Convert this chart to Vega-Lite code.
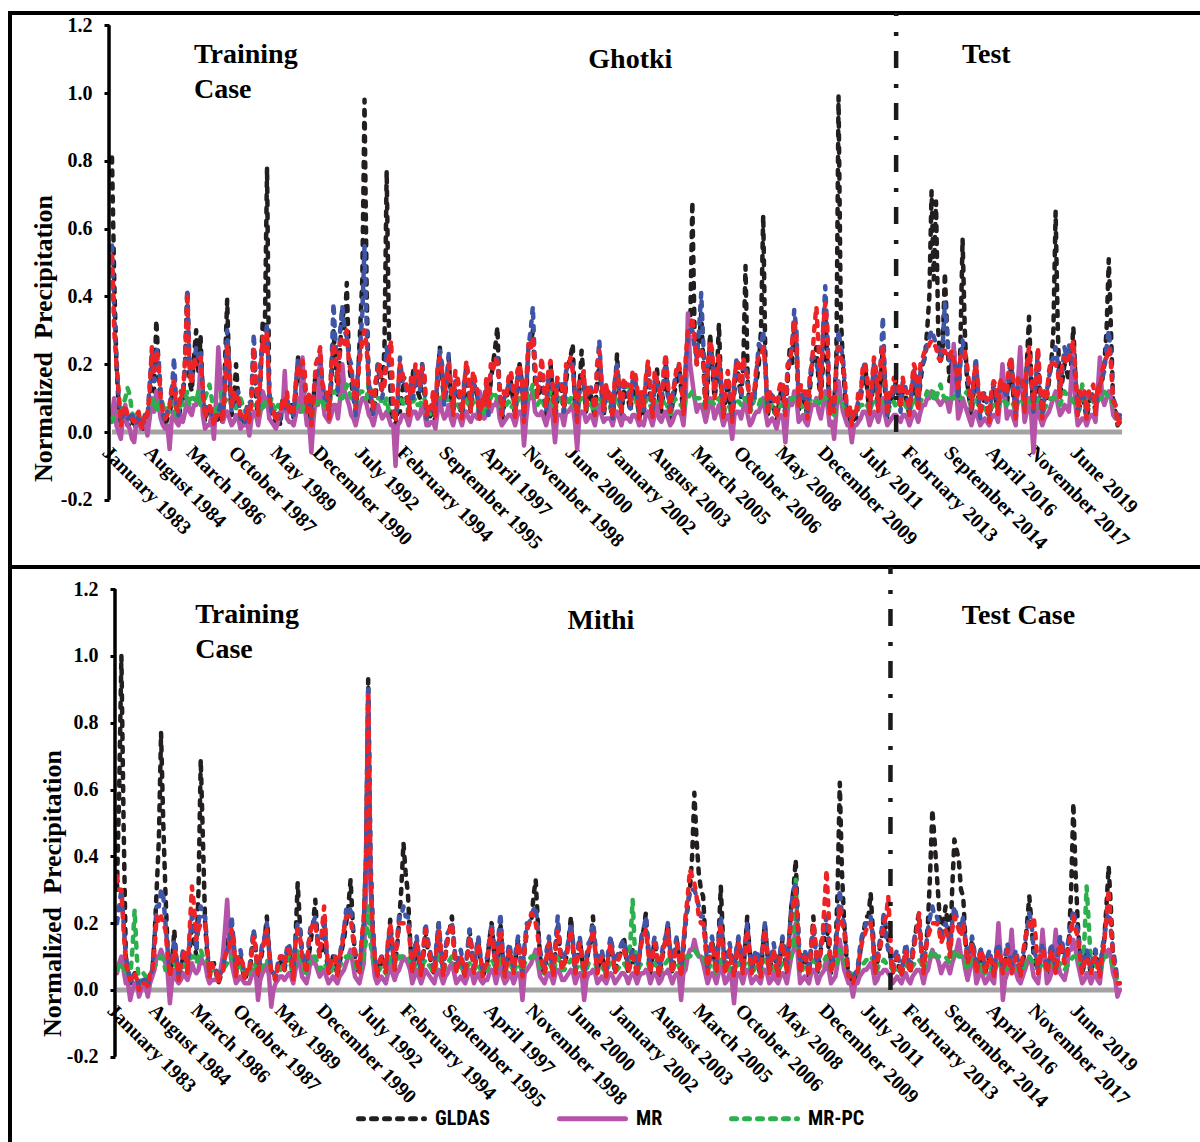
{
"$schema":"https://vega.github.io/schema/vega-lite/v6.json",
"usermeta":{"embedOptions":{"actions":false}},
"background":"white",
"padding":{"left":8,"top":8,"right":0,"bottom":0},
"spacing":0,
"bounds":"flush",
"config":{"view":{"stroke":"black","strokeWidth":4}},
"resolve":{"scale":{"color":"shared","strokeDash":"shared","x":"independent","y":"independent"},"legend":{"color":"shared","strokeDash":"shared"}},
"datasets":{
"ghotki":[
{"m":0,"g":0.81,"p":0.05,"c":0.03,"b":0.55,"r":0.52},
{"m":2,"g":0.2,"p":0.02,"c":0.05,"b":0.22,"r":0.2},
{"m":4,"g":0.02,"p":-0.02,"c":0.04,"b":0.03,"r":0.02},
{"m":6,"g":0.05,"p":0.08,"c":0.1,"b":0.06,"r":0.08},
{"m":8,"g":0.02,"p":0.01,"c":0.11,"b":0.04,"r":0.05},
{"m":10,"g":0.01,"p":-0.03,"c":0.03,"b":0.02,"r":0.03},
{"m":12,"g":0.03,"p":0.04,"c":0.06,"b":0.05,"r":0.06},
{"m":14,"g":0.01,"p":0.02,"c":0.02,"b":0.02,"r":0.01},
{"m":16,"g":0.04,"p":-0.01,"c":0.05,"b":0.04,"r":0.05},
{"m":18,"g":0.2,"p":0.1,"c":0.08,"b":0.24,"r":0.25},
{"m":20,"g":0.33,"p":0.12,"c":0.07,"b":0.25,"r":0.24},
{"m":22,"g":0.06,"p":0.04,"c":0.1,"b":0.12,"r":0.1},
{"m":24,"g":0.02,"p":0.01,"c":0.04,"b":0.03,"r":0.04},
{"m":26,"g":0.05,"p":-0.05,"c":0.06,"b":0.08,"r":0.07},
{"m":28,"g":0.15,"p":0.06,"c":0.09,"b":0.22,"r":0.15},
{"m":30,"g":0.03,"p":0.02,"c":0.05,"b":0.05,"r":0.06},
{"m":32,"g":0.1,"p":0.03,"c":0.08,"b":0.12,"r":0.1},
{"m":34,"g":0.42,"p":0.1,"c":0.12,"b":0.42,"r":0.41},
{"m":36,"g":0.12,"p":0.05,"c":0.1,"b":0.15,"r":0.14},
{"m":38,"g":0.3,"p":0.08,"c":0.09,"b":0.25,"r":0.2},
{"m":40,"g":0.28,"p":0.2,"c":0.08,"b":0.24,"r":0.22},
{"m":42,"g":0.03,"p":0.01,"c":0.1,"b":0.05,"r":0.04},
{"m":44,"g":0.08,"p":0.02,"c":0.14,"b":0.07,"r":0.08},
{"m":46,"g":0.02,"p":-0.02,"c":0.06,"b":0.03,"r":0.02},
{"m":48,"g":0.04,"p":0.25,"c":0.05,"b":0.06,"r":0.05},
{"m":50,"g":0.02,"p":0.03,"c":0.12,"b":0.04,"r":0.03},
{"m":52,"g":0.39,"p":0.06,"c":0.1,"b":0.3,"r":0.26},
{"m":54,"g":0.05,"p":0.02,"c":0.13,"b":0.06,"r":0.07},
{"m":56,"g":0.2,"p":0.05,"c":0.07,"b":0.1,"r":0.09},
{"m":58,"g":0.03,"p":0.01,"c":0.1,"b":0.04,"r":0.05},
{"m":60,"g":0.02,"p":0.02,"c":0.06,"b":0.03,"r":0.04},
{"m":62,"g":0.02,"p":-0.01,"c":0.09,"b":0.05,"r":0.03},
{"m":64,"g":0.25,"p":0.06,"c":0.08,"b":0.29,"r":0.25},
{"m":66,"g":0.04,"p":0.02,"c":0.05,"b":0.06,"r":0.05},
{"m":68,"g":0.32,"p":0.12,"c":0.06,"b":0.25,"r":0.28},
{"m":70,"g":0.78,"p":0.1,"c":0.09,"b":0.32,"r":0.3},
{"m":72,"g":0.05,"p":0.03,"c":0.1,"b":0.06,"r":0.07},
{"m":74,"g":0.03,"p":0.01,"c":0.06,"b":0.04,"r":0.03},
{"m":76,"g":0.02,"p":0.06,"c":0.07,"b":0.04,"r":0.05},
{"m":78,"g":0.08,"p":0.18,"c":0.08,"b":0.06,"r":0.07},
{"m":80,"g":0.06,"p":0.03,"c":0.06,"b":0.07,"r":0.05},
{"m":82,"g":0.04,"p":0.02,"c":0.05,"b":0.05,"r":0.06},
{"m":84,"g":0.22,"p":0.1,"c":0.08,"b":0.22,"r":0.2},
{"m":86,"g":0.2,"p":0.22,"c":0.06,"b":0.18,"r":0.21},
{"m":88,"g":0.05,"p":0.02,"c":0.1,"b":0.07,"r":0.06},
{"m":90,"g":0.02,"p":-0.06,"c":0.04,"b":0.03,"r":0.02},
{"m":92,"g":0.18,"p":0.1,"c":0.08,"b":0.16,"r":0.2},
{"m":94,"g":0.2,"p":0.24,"c":0.09,"b":0.21,"r":0.25},
{"m":96,"g":0.1,"p":0.05,"c":0.07,"b":0.1,"r":0.12},
{"m":98,"g":0.05,"p":0.03,"c":0.1,"b":0.06,"r":0.04},
{"m":100,"g":0.3,"p":0.08,"c":0.12,"b":0.38,"r":0.26},
{"m":102,"g":0.1,"p":0.04,"c":0.1,"b":0.12,"r":0.14},
{"m":104,"g":0.37,"p":0.2,"c":0.1,"b":0.37,"r":0.28},
{"m":106,"g":0.44,"p":0.1,"c":0.14,"b":0.28,"r":0.3},
{"m":108,"g":0.15,"p":0.05,"c":0.1,"b":0.2,"r":0.18},
{"m":110,"g":0.06,"p":0.02,"c":0.08,"b":0.05,"r":0.07},
{"m":112,"g":0.3,"p":0.08,"c":0.12,"b":0.25,"r":0.22},
{"m":114,"g":0.98,"p":0.1,"c":0.1,"b":0.55,"r":0.3},
{"m":116,"g":0.1,"p":0.05,"c":0.15,"b":0.14,"r":0.12},
{"m":118,"g":0.05,"p":0.02,"c":0.08,"b":0.05,"r":0.06},
{"m":120,"g":0.2,"p":0.08,"c":0.1,"b":0.2,"r":0.18},
{"m":122,"g":0.12,"p":0.04,"c":0.08,"b":0.1,"r":0.12},
{"m":124,"g":0.77,"p":0.06,"c":0.1,"b":0.25,"r":0.2},
{"m":126,"g":0.05,"p":0.02,"c":0.05,"b":0.18,"r":0.27},
{"m":128,"g":0.02,"p":-0.1,"c":0.04,"b":0.04,"r":0.03},
{"m":130,"g":0.06,"p":0.03,"c":0.1,"b":0.22,"r":0.2},
{"m":132,"g":0.15,"p":0.05,"c":0.08,"b":0.16,"r":0.14},
{"m":134,"g":0.04,"p":0.02,"c":0.06,"b":0.06,"r":0.05},
{"m":136,"g":0.18,"p":0.06,"c":0.09,"b":0.1,"r":0.12},
{"m":138,"g":0.12,"p":0.04,"c":0.08,"b":0.15,"r":0.18},
{"m":140,"g":0.2,"p":0.08,"c":0.1,"b":0.2,"r":0.19},
{"m":142,"g":0.03,"p":0.02,"c":0.06,"b":0.04,"r":0.05},
{"m":144,"g":0.05,"p":0.03,"c":0.05,"b":0.06,"r":0.07},
{"m":146,"g":0.03,"p":0.01,"c":0.08,"b":0.05,"r":0.04},
{"m":148,"g":0.25,"p":0.1,"c":0.1,"b":0.24,"r":0.22},
{"m":150,"g":0.1,"p":0.04,"c":0.12,"b":0.08,"r":0.1},
{"m":152,"g":0.22,"p":0.08,"c":0.09,"b":0.23,"r":0.2},
{"m":154,"g":0.05,"p":0.02,"c":0.07,"b":0.06,"r":0.05},
{"m":156,"g":0.15,"p":0.05,"c":0.08,"b":0.14,"r":0.16},
{"m":158,"g":0.03,"p":0.02,"c":0.06,"b":0.05,"r":0.04},
{"m":160,"g":0.2,"p":0.06,"c":0.1,"b":0.18,"r":0.21},
{"m":162,"g":0.06,"p":0.03,"c":0.07,"b":0.07,"r":0.06},
{"m":164,"g":0.14,"p":0.05,"c":0.08,"b":0.12,"r":0.15},
{"m":166,"g":0.04,"p":0.12,"c":0.06,"b":0.05,"r":0.04},
{"m":168,"g":0.08,"p":0.04,"c":0.05,"b":0.1,"r":0.08},
{"m":170,"g":0.06,"p":0.1,"c":0.1,"b":0.05,"r":0.07},
{"m":172,"g":0.2,"p":0.08,"c":0.12,"b":0.2,"r":0.18},
{"m":174,"g":0.31,"p":0.1,"c":0.1,"b":0.22,"r":0.2},
{"m":176,"g":0.03,"p":0.02,"c":0.06,"b":0.04,"r":0.05},
{"m":178,"g":0.1,"p":0.04,"c":0.08,"b":0.11,"r":0.1},
{"m":180,"g":0.15,"p":0.05,"c":0.07,"b":0.15,"r":0.18},
{"m":182,"g":0.04,"p":0.02,"c":0.05,"b":0.05,"r":0.04},
{"m":184,"g":0.2,"p":0.06,"c":0.1,"b":0.18,"r":0.2},
{"m":186,"g":0.04,"p":-0.04,"c":0.07,"b":0.05,"r":0.03},
{"m":188,"g":0.25,"p":0.1,"c":0.12,"b":0.25,"r":0.26},
{"m":190,"g":0.3,"p":0.12,"c":0.14,"b":0.37,"r":0.28},
{"m":192,"g":0.1,"p":0.05,"c":0.08,"b":0.12,"r":0.1},
{"m":194,"g":0.18,"p":0.06,"c":0.1,"b":0.2,"r":0.22},
{"m":196,"g":0.05,"p":0.02,"c":0.09,"b":0.06,"r":0.07},
{"m":198,"g":0.2,"p":0.08,"c":0.12,"b":0.18,"r":0.21},
{"m":200,"g":0.03,"p":-0.03,"c":0.06,"b":0.04,"r":0.03},
{"m":202,"g":0.15,"p":0.05,"c":0.1,"b":0.14,"r":0.15},
{"m":204,"g":0.05,"p":0.02,"c":0.06,"b":0.06,"r":0.07},
{"m":206,"g":0.2,"p":0.06,"c":0.08,"b":0.2,"r":0.19},
{"m":208,"g":0.26,"p":0.08,"c":0.1,"b":0.2,"r":0.18},
{"m":210,"g":0.03,"p":-0.05,"c":0.05,"b":0.04,"r":0.03},
{"m":212,"g":0.24,"p":0.06,"c":0.1,"b":0.15,"r":0.16},
{"m":214,"g":0.06,"p":0.03,"c":0.07,"b":0.07,"r":0.06},
{"m":216,"g":0.12,"p":0.05,"c":0.09,"b":0.14,"r":0.12},
{"m":218,"g":0.04,"p":0.02,"c":0.06,"b":0.05,"r":0.05},
{"m":220,"g":0.2,"p":0.08,"c":0.1,"b":0.27,"r":0.24},
{"m":222,"g":0.05,"p":0.03,"c":0.08,"b":0.06,"r":0.06},
{"m":224,"g":0.1,"p":0.04,"c":0.12,"b":0.12,"r":0.1},
{"m":226,"g":0.03,"p":0.02,"c":0.06,"b":0.04,"r":0.04},
{"m":228,"g":0.23,"p":0.06,"c":0.1,"b":0.2,"r":0.18},
{"m":230,"g":0.05,"p":0.02,"c":0.07,"b":0.06,"r":0.05},
{"m":232,"g":0.1,"p":0.04,"c":0.14,"b":0.12,"r":0.14},
{"m":234,"g":0.06,"p":0.03,"c":0.13,"b":0.07,"r":0.08},
{"m":236,"g":0.15,"p":0.05,"c":0.1,"b":0.16,"r":0.18},
{"m":238,"g":0.04,"p":0.02,"c":0.06,"b":0.05,"r":0.04},
{"m":240,"g":0.05,"p":0.02,"c":0.08,"b":0.06,"r":0.07},
{"m":242,"g":0.18,"p":0.06,"c":0.1,"b":0.2,"r":0.21},
{"m":244,"g":0.04,"p":0.02,"c":0.06,"b":0.05,"r":0.04},
{"m":246,"g":0.19,"p":0.08,"c":0.09,"b":0.16,"r":0.15},
{"m":248,"g":0.06,"p":0.03,"c":0.08,"b":0.08,"r":0.07},
{"m":250,"g":0.2,"p":0.06,"c":0.07,"b":0.22,"r":0.23},
{"m":252,"g":0.04,"p":0.02,"c":0.05,"b":0.05,"r":0.06},
{"m":254,"g":0.12,"p":0.05,"c":0.1,"b":0.15,"r":0.14},
{"m":256,"g":0.2,"p":0.06,"c":0.08,"b":0.19,"r":0.2},
{"m":258,"g":0.05,"p":0.02,"c":0.06,"b":0.06,"r":0.05},
{"m":260,"g":0.25,"p":0.35,"c":0.1,"b":0.28,"r":0.3},
{"m":262,"g":0.68,"p":0.15,"c":0.12,"b":0.3,"r":0.34},
{"m":264,"g":0.2,"p":0.06,"c":0.1,"b":0.22,"r":0.2},
{"m":266,"g":0.35,"p":0.08,"c":0.1,"b":0.41,"r":0.25},
{"m":268,"g":0.06,"p":0.03,"c":0.07,"b":0.08,"r":0.07},
{"m":270,"g":0.29,"p":0.1,"c":0.09,"b":0.25,"r":0.27},
{"m":272,"g":0.1,"p":0.04,"c":0.08,"b":0.12,"r":0.1},
{"m":274,"g":0.32,"p":0.08,"c":0.1,"b":0.2,"r":0.23},
{"m":276,"g":0.04,"p":0.02,"c":0.06,"b":0.05,"r":0.04},
{"m":278,"g":0.15,"p":0.05,"c":0.08,"b":0.16,"r":0.18},
{"m":280,"g":0.03,"p":-0.02,"c":0.05,"b":0.04,"r":0.03},
{"m":282,"g":0.2,"p":0.06,"c":0.09,"b":0.22,"r":0.21},
{"m":284,"g":0.1,"p":0.04,"c":0.08,"b":0.1,"r":0.12},
{"m":286,"g":0.49,"p":0.1,"c":0.1,"b":0.2,"r":0.18},
{"m":288,"g":0.06,"p":0.02,"c":0.06,"b":0.07,"r":0.06},
{"m":290,"g":0.12,"p":0.05,"c":0.1,"b":0.1,"r":0.12},
{"m":292,"g":0.2,"p":0.06,"c":0.08,"b":0.26,"r":0.22},
{"m":294,"g":0.64,"p":0.1,"c":0.1,"b":0.3,"r":0.25},
{"m":296,"g":0.05,"p":0.02,"c":0.06,"b":0.06,"r":0.05},
{"m":298,"g":0.1,"p":0.04,"c":0.08,"b":0.12,"r":0.1},
{"m":300,"g":0.03,"p":0.01,"c":0.05,"b":0.04,"r":0.04},
{"m":302,"g":0.12,"p":0.05,"c":0.08,"b":0.14,"r":0.15},
{"m":304,"g":0.05,"p":-0.03,"c":0.06,"b":0.06,"r":0.05},
{"m":306,"g":0.25,"p":0.1,"c":0.09,"b":0.22,"r":0.2},
{"m":308,"g":0.3,"p":0.12,"c":0.1,"b":0.36,"r":0.33},
{"m":310,"g":0.06,"p":0.03,"c":0.08,"b":0.08,"r":0.07},
{"m":312,"g":0.1,"p":0.05,"c":0.07,"b":0.1,"r":0.12},
{"m":314,"g":0.04,"p":0.02,"c":0.05,"b":0.05,"r":0.04},
{"m":316,"g":0.2,"p":0.08,"c":0.1,"b":0.22,"r":0.2},
{"m":318,"g":0.25,"p":0.1,"c":0.09,"b":0.2,"r":0.37},
{"m":320,"g":0.1,"p":0.04,"c":0.08,"b":0.12,"r":0.1},
{"m":322,"g":0.35,"p":0.12,"c":0.1,"b":0.43,"r":0.38},
{"m":324,"g":0.05,"p":0.02,"c":0.06,"b":0.06,"r":0.05},
{"m":326,"g":0.08,"p":-0.02,"c":0.05,"b":0.07,"r":0.06},
{"m":328,"g":0.99,"p":0.15,"c":0.1,"b":0.3,"r":0.25},
{"m":330,"g":0.2,"p":0.06,"c":0.08,"b":0.22,"r":0.2},
{"m":332,"g":0.04,"p":0.02,"c":0.06,"b":0.05,"r":0.04},
{"m":334,"g":0.02,"p":-0.03,"c":0.05,"b":0.03,"r":0.02},
{"m":336,"g":0.04,"p":0.02,"c":0.06,"b":0.05,"r":0.06},
{"m":338,"g":0.1,"p":0.04,"c":0.08,"b":0.12,"r":0.1},
{"m":340,"g":0.2,"p":0.06,"c":0.07,"b":0.21,"r":0.2},
{"m":342,"g":0.05,"p":0.02,"c":0.06,"b":0.06,"r":0.05},
{"m":344,"g":0.18,"p":0.06,"c":0.1,"b":0.2,"r":0.22},
{"m":346,"g":0.06,"p":0.03,"c":0.07,"b":0.07,"r":0.06},
{"m":348,"g":0.25,"p":0.1,"c":0.09,"b":0.34,"r":0.25},
{"m":350,"g":0.04,"p":0.02,"c":0.06,"b":0.05,"r":0.05},
{"m":352,"g":0.1,"p":0.04,"c":0.08,"b":0.1,"r":0.11},
{"m":354,"g":0.15,"p":0.05,"c":0.07,"b":0.12,"r":0.14},
{"m":356,"g":0.08,"p":0.03,"c":0.1,"b":0.06,"r":0.07},
{"m":358,"g":0.12,"p":0.05,"c":0.08,"b":0.14,"r":0.12},
{"m":360,"g":0.05,"p":0.02,"c":0.06,"b":0.06,"r":0.05},
{"m":362,"g":0.15,"p":0.06,"c":0.1,"b":0.18,"r":0.2},
{"m":364,"g":0.08,"p":0.03,"c":0.07,"b":0.08,"r":0.06},
{"m":366,"g":0.2,"p":0.08,"c":0.1,"b":0.2,"r":0.22},
{"m":368,"g":0.3,"p":0.1,"c":0.12,"b":0.26,"r":0.24},
{"m":370,"g":0.71,"p":0.12,"c":0.1,"b":0.3,"r":0.27},
{"m":372,"g":0.68,"p":0.1,"c":0.1,"b":0.26,"r":0.25},
{"m":374,"g":0.2,"p":0.08,"c":0.14,"b":0.22,"r":0.21},
{"m":376,"g":0.47,"p":0.1,"c":0.1,"b":0.38,"r":0.24},
{"m":378,"g":0.15,"p":0.06,"c":0.09,"b":0.2,"r":0.22},
{"m":380,"g":0.25,"p":0.26,"c":0.1,"b":0.22,"r":0.21},
{"m":382,"g":0.08,"p":0.04,"c":0.12,"b":0.1,"r":0.12},
{"m":384,"g":0.57,"p":0.1,"c":0.1,"b":0.27,"r":0.23},
{"m":386,"g":0.15,"p":0.06,"c":0.12,"b":0.18,"r":0.2},
{"m":388,"g":0.05,"p":0.02,"c":0.08,"b":0.06,"r":0.07},
{"m":390,"g":0.2,"p":0.06,"c":0.1,"b":0.22,"r":0.2},
{"m":392,"g":0.06,"p":0.02,"c":0.06,"b":0.04,"r":0.05},
{"m":394,"g":0.1,"p":0.04,"c":0.08,"b":0.12,"r":0.1},
{"m":396,"g":0.03,"p":0.02,"c":0.05,"b":0.04,"r":0.03},
{"m":398,"g":0.12,"p":0.05,"c":0.08,"b":0.14,"r":0.15},
{"m":400,"g":0.05,"p":0.03,"c":0.07,"b":0.06,"r":0.05},
{"m":402,"g":0.15,"p":0.2,"c":0.1,"b":0.13,"r":0.12},
{"m":404,"g":0.08,"p":0.04,"c":0.08,"b":0.1,"r":0.12},
{"m":406,"g":0.2,"p":0.06,"c":0.09,"b":0.22,"r":0.22},
{"m":408,"g":0.04,"p":0.02,"c":0.06,"b":0.05,"r":0.04},
{"m":410,"g":0.18,"p":0.25,"c":0.1,"b":0.15,"r":0.16},
{"m":412,"g":0.06,"p":0.03,"c":0.07,"b":0.07,"r":0.06},
{"m":414,"g":0.34,"p":0.1,"c":0.09,"b":0.22,"r":0.25},
{"m":416,"g":0.08,"p":-0.06,"c":0.06,"b":0.06,"r":0.07},
{"m":418,"g":0.2,"p":0.08,"c":0.1,"b":0.24,"r":0.25},
{"m":420,"g":0.04,"p":0.02,"c":0.05,"b":0.05,"r":0.04},
{"m":422,"g":0.1,"p":0.05,"c":0.08,"b":0.12,"r":0.1},
{"m":424,"g":0.2,"p":0.08,"c":0.1,"b":0.2,"r":0.21},
{"m":426,"g":0.65,"p":0.12,"c":0.1,"b":0.25,"r":0.2},
{"m":428,"g":0.1,"p":0.05,"c":0.08,"b":0.12,"r":0.1},
{"m":430,"g":0.2,"p":0.08,"c":0.12,"b":0.25,"r":0.22},
{"m":432,"g":0.15,"p":0.06,"c":0.1,"b":0.26,"r":0.22},
{"m":434,"g":0.31,"p":0.23,"c":0.09,"b":0.2,"r":0.27},
{"m":436,"g":0.05,"p":0.02,"c":0.06,"b":0.06,"r":0.05},
{"m":438,"g":0.1,"p":0.04,"c":0.14,"b":0.12,"r":0.1},
{"m":440,"g":0.04,"p":0.02,"c":0.07,"b":0.05,"r":0.04},
{"m":442,"g":0.12,"p":0.05,"c":0.1,"b":0.1,"r":0.12},
{"m":444,"g":0.06,"p":0.03,"c":0.08,"b":0.06,"r":0.05},
{"m":446,"g":0.15,"p":0.22,"c":0.1,"b":0.14,"r":0.12},
{"m":448,"g":0.2,"p":0.08,"c":0.12,"b":0.18,"r":0.2},
{"m":450,"g":0.51,"p":0.12,"c":0.1,"b":0.3,"r":0.25},
{"m":452,"g":0.08,"p":0.05,"c":0.08,"b":0.1,"r":0.09},
{"m":454,"g":0.02,"p":0.05,"c":0.03,"b":0.03,"r":0.02},
{"m":1,"g":0.45,"p":0.1,"c":0.05,"b":0.35,"r":0.3},
{"m":3,"g":0.08,"p":0.0,"c":0.06,"b":0.1,"r":0.12},
{"m":5,"g":0.03,"p":0.05,"c":0.08,"b":0.05,"r":0.06},
{"m":7,"g":0.02,"p":0.02,"c":0.13,"b":0.04,"r":0.05},
{"m":9,"g":0.04,"p":-0.02,"c":0.06,"b":0.06,"r":0.04},
{"m":11,"g":0.02,"p":0.03,"c":0.05,"b":0.03,"r":0.04},
{"m":13,"g":0.02,"p":0.01,"c":0.04,"b":0.03,"r":0.02},
{"m":15,"g":0.03,"p":0.03,"c":0.06,"b":0.05,"r":0.06},
{"m":17,"g":0.1,"p":0.04,"c":0.08,"b":0.14,"r":0.12},
{"m":19,"g":0.12,"p":0.06,"c":0.1,"b":0.15,"r":0.18},
{"m":21,"g":0.2,"p":0.08,"c":0.06,"b":0.22,"r":0.2},
{"m":23,"g":0.03,"p":0.02,"c":0.08,"b":0.05,"r":0.06},
{"m":25,"g":0.04,"p":0.02,"c":0.07,"b":0.06,"r":0.05},
{"m":27,"g":0.1,"p":0.04,"c":0.08,"b":0.12,"r":0.14},
{"m":29,"g":0.06,"p":0.03,"c":0.05,"b":0.08,"r":0.07},
{"m":31,"g":0.08,"p":0.05,"c":0.1,"b":0.1,"r":0.12},
{"m":33,"g":0.2,"p":0.06,"c":0.1,"b":0.2,"r":0.22},
{"m":35,"g":0.15,"p":0.06,"c":0.08,"b":0.2,"r":0.18},
{"m":37,"g":0.22,"p":0.08,"c":0.1,"b":0.2,"r":0.22},
{"m":39,"g":0.18,"p":0.1,"c":0.12,"b":0.22,"r":0.2},
{"m":41,"g":0.1,"p":0.05,"c":0.09,"b":0.12,"r":0.13},
{"m":43,"g":0.06,"p":0.02,"c":0.12,"b":0.08,"r":0.07},
{"m":45,"g":0.04,"p":0.05,"c":0.1,"b":0.05,"r":0.06},
{"m":47,"g":0.03,"p":0.1,"c":0.08,"b":0.04,"r":0.05},
{"m":49,"g":0.06,"p":0.15,"c":0.1,"b":0.08,"r":0.06},
{"m":51,"g":0.2,"p":0.05,"c":0.09,"b":0.15,"r":0.12},
{"m":53,"g":0.15,"p":0.04,"c":0.1,"b":0.18,"r":0.2},
{"m":55,"g":0.08,"p":0.03,"c":0.1,"b":0.1,"r":0.12},
{"m":57,"g":0.1,"p":0.04,"c":0.09,"b":0.12,"r":0.1},
{"m":59,"g":0.04,"p":0.02,"c":0.08,"b":0.05,"r":0.06},
{"m":61,"g":0.06,"p":0.03,"c":0.07,"b":0.08,"r":0.07},
{"m":63,"g":0.1,"p":0.04,"c":0.08,"b":0.12,"r":0.1},
{"m":65,"g":0.1,"p":0.05,"c":0.07,"b":0.14,"r":0.15},
{"m":67,"g":0.15,"p":0.06,"c":0.08,"b":0.2,"r":0.16},
{"m":69,"g":0.3,"p":0.1,"c":0.09,"b":0.25,"r":0.24},
{"m":71,"g":0.1,"p":0.04,"c":0.08,"b":0.12,"r":0.1},
{"m":73,"g":0.04,"p":0.02,"c":0.07,"b":0.05,"r":0.06},
{"m":75,"g":0.05,"p":0.03,"c":0.08,"b":0.06,"r":0.05},
{"m":77,"g":0.1,"p":0.06,"c":0.09,"b":0.08,"r":0.1},
{"m":79,"g":0.06,"p":0.04,"c":0.07,"b":0.1,"r":0.12},
{"m":81,"g":0.08,"p":0.03,"c":0.06,"b":0.06,"r":0.08},
{"m":83,"g":0.12,"p":0.05,"c":0.08,"b":0.14,"r":0.15},
{"m":85,"g":0.15,"p":0.06,"c":0.07,"b":0.18,"r":0.16},
{"m":87,"g":0.12,"p":0.08,"c":0.09,"b":0.14,"r":0.18},
{"m":89,"g":0.08,"p":0.03,"c":0.1,"b":0.1,"r":0.12},
{"m":91,"g":0.1,"p":0.04,"c":0.06,"b":0.12,"r":0.1},
{"m":93,"g":0.15,"p":0.08,"c":0.09,"b":0.18,"r":0.22},
{"m":95,"g":0.12,"p":0.1,"c":0.1,"b":0.15,"r":0.14},
{"m":97,"g":0.08,"p":0.04,"c":0.09,"b":0.1,"r":0.12},
{"m":99,"g":0.15,"p":0.05,"c":0.1,"b":0.18,"r":0.2},
{"m":101,"g":0.2,"p":0.08,"c":0.12,"b":0.25,"r":0.22},
{"m":103,"g":0.25,"p":0.1,"c":0.1,"b":0.3,"r":0.26},
{"m":105,"g":0.3,"p":0.12,"c":0.11,"b":0.3,"r":0.26},
{"m":107,"g":0.2,"p":0.08,"c":0.12,"b":0.22,"r":0.2},
{"m":109,"g":0.1,"p":0.04,"c":0.1,"b":0.12,"r":0.14},
{"m":111,"g":0.15,"p":0.05,"c":0.1,"b":0.18,"r":0.16},
{"m":113,"g":0.45,"p":0.1,"c":0.12,"b":0.35,"r":0.27},
{"m":115,"g":0.4,"p":0.08,"c":0.1,"b":0.3,"r":0.25},
{"m":117,"g":0.08,"p":0.04,"c":0.12,"b":0.1,"r":0.12},
{"m":119,"g":0.1,"p":0.05,"c":0.1,"b":0.14,"r":0.15},
{"m":121,"g":0.15,"p":0.06,"c":0.1,"b":0.16,"r":0.2},
{"m":123,"g":0.25,"p":0.05,"c":0.08,"b":0.15,"r":0.14},
{"m":125,"g":0.3,"p":0.04,"c":0.06,"b":0.2,"r":0.22},
{"m":127,"g":0.04,"p":0.02,"c":0.05,"b":0.06,"r":0.08},
{"m":129,"g":0.06,"p":0.02,"c":0.08,"b":0.1,"r":0.12},
{"m":131,"g":0.12,"p":0.05,"c":0.09,"b":0.15,"r":0.18},
{"m":133,"g":0.1,"p":0.04,"c":0.08,"b":0.12,"r":0.14},
{"m":135,"g":0.12,"p":0.05,"c":0.09,"b":0.14,"r":0.16},
{"m":137,"g":0.15,"p":0.06,"c":0.1,"b":0.18,"r":0.2},
{"m":139,"g":0.1,"p":0.05,"c":0.08,"b":0.12,"r":0.14},
{"m":141,"g":0.12,"p":0.06,"c":0.1,"b":0.15,"r":0.18},
{"m":143,"g":0.04,"p":0.02,"c":0.06,"b":0.06,"r":0.08},
{"m":145,"g":0.06,"p":0.03,"c":0.07,"b":0.1,"r":0.12},
{"m":147,"g":0.15,"p":0.06,"c":0.09,"b":0.18,"r":0.2},
{"m":149,"g":0.15,"p":0.06,"c":0.1,"b":0.2,"r":0.18},
{"m":151,"g":0.12,"p":0.05,"c":0.1,"b":0.14,"r":0.16},
{"m":153,"g":0.1,"p":0.04,"c":0.08,"b":0.12,"r":0.14},
{"m":155,"g":0.12,"p":0.05,"c":0.09,"b":0.15,"r":0.18},
{"m":157,"g":0.08,"p":0.04,"c":0.07,"b":0.1,"r":0.12},
{"m":159,"g":0.12,"p":0.05,"c":0.1,"b":0.15,"r":0.14},
{"m":161,"g":0.1,"p":0.04,"c":0.08,"b":0.14,"r":0.16},
{"m":163,"g":0.12,"p":0.05,"c":0.09,"b":0.16,"r":0.18},
{"m":165,"g":0.1,"p":0.04,"c":0.07,"b":0.1,"r":0.12},
{"m":167,"g":0.08,"p":0.06,"c":0.08,"b":0.1,"r":0.1},
{"m":169,"g":0.12,"p":0.05,"c":0.09,"b":0.14,"r":0.16},
{"m":171,"g":0.15,"p":0.06,"c":0.1,"b":0.18,"r":0.2},
{"m":173,"g":0.25,"p":0.08,"c":0.11,"b":0.2,"r":0.22},
{"m":175,"g":0.1,"p":0.04,"c":0.08,"b":0.12,"r":0.14},
{"m":177,"g":0.08,"p":0.03,"c":0.07,"b":0.1,"r":0.12},
{"m":179,"g":0.12,"p":0.05,"c":0.09,"b":0.14,"r":0.16},
{"m":181,"g":0.1,"p":0.04,"c":0.08,"b":0.12,"r":0.14},
{"m":183,"g":0.12,"p":0.05,"c":0.09,"b":0.16,"r":0.18},
{"m":185,"g":0.15,"p":0.06,"c":0.1,"b":0.14,"r":0.16},
{"m":187,"g":0.1,"p":0.04,"c":0.08,"b":0.12,"r":0.15},
{"m":189,"g":0.25,"p":0.1,"c":0.12,"b":0.3,"r":0.24},
{"m":191,"g":0.15,"p":0.06,"c":0.1,"b":0.18,"r":0.2},
{"m":193,"g":0.12,"p":0.05,"c":0.09,"b":0.14,"r":0.16},
{"m":195,"g":0.1,"p":0.04,"c":0.08,"b":0.12,"r":0.14},
{"m":197,"g":0.12,"p":0.05,"c":0.1,"b":0.16,"r":0.18},
{"m":199,"g":0.1,"p":0.04,"c":0.08,"b":0.12,"r":0.14},
{"m":201,"g":0.1,"p":0.05,"c":0.09,"b":0.14,"r":0.16},
{"m":203,"g":0.12,"p":0.05,"c":0.09,"b":0.15,"r":0.14},
{"m":205,"g":0.15,"p":0.06,"c":0.1,"b":0.18,"r":0.2},
{"m":207,"g":0.22,"p":0.07,"c":0.1,"b":0.2,"r":0.22},
{"m":209,"g":0.08,"p":0.03,"c":0.07,"b":0.1,"r":0.12},
{"m":211,"g":0.12,"p":0.05,"c":0.09,"b":0.14,"r":0.16},
{"m":213,"g":0.15,"p":0.06,"c":0.1,"b":0.16,"r":0.18},
{"m":215,"g":0.1,"p":0.04,"c":0.08,"b":0.12,"r":0.14},
{"m":217,"g":0.08,"p":0.04,"c":0.07,"b":0.1,"r":0.12},
{"m":219,"g":0.15,"p":0.06,"c":0.1,"b":0.18,"r":0.2},
{"m":221,"g":0.12,"p":0.05,"c":0.09,"b":0.14,"r":0.16},
{"m":223,"g":0.1,"p":0.04,"c":0.08,"b":0.12,"r":0.14},
{"m":225,"g":0.08,"p":0.04,"c":0.07,"b":0.1,"r":0.12},
{"m":227,"g":0.12,"p":0.05,"c":0.09,"b":0.15,"r":0.16},
{"m":229,"g":0.1,"p":0.04,"c":0.08,"b":0.12,"r":0.14},
{"m":231,"g":0.12,"p":0.05,"c":0.12,"b":0.14,"r":0.16},
{"m":233,"g":0.1,"p":0.04,"c":0.12,"b":0.12,"r":0.14},
{"m":235,"g":0.12,"p":0.05,"c":0.1,"b":0.15,"r":0.18},
{"m":237,"g":0.1,"p":0.04,"c":0.08,"b":0.12,"r":0.14},
{"m":239,"g":0.08,"p":0.03,"c":0.07,"b":0.1,"r":0.12},
{"m":241,"g":0.12,"p":0.05,"c":0.09,"b":0.15,"r":0.16},
{"m":243,"g":0.1,"p":0.04,"c":0.08,"b":0.12,"r":0.14},
{"m":245,"g":0.12,"p":0.05,"c":0.09,"b":0.15,"r":0.18},
{"m":247,"g":0.1,"p":0.04,"c":0.08,"b":0.12,"r":0.14},
{"m":249,"g":0.12,"p":0.05,"c":0.09,"b":0.15,"r":0.18},
{"m":251,"g":0.1,"p":0.04,"c":0.08,"b":0.12,"r":0.14},
{"m":253,"g":0.08,"p":0.03,"c":0.07,"b":0.1,"r":0.12},
{"m":255,"g":0.15,"p":0.06,"c":0.09,"b":0.18,"r":0.2},
{"m":257,"g":0.12,"p":0.05,"c":0.08,"b":0.14,"r":0.16},
{"m":259,"g":0.15,"p":0.1,"c":0.1,"b":0.2,"r":0.22},
{"m":261,"g":0.3,"p":0.2,"c":0.11,"b":0.3,"r":0.3},
{"m":263,"g":0.3,"p":0.1,"c":0.1,"b":0.25,"r":0.28},
{"m":265,"g":0.25,"p":0.08,"c":0.1,"b":0.3,"r":0.24},
{"m":267,"g":0.2,"p":0.06,"c":0.09,"b":0.25,"r":0.2},
{"m":269,"g":0.15,"p":0.06,"c":0.08,"b":0.18,"r":0.2},
{"m":271,"g":0.2,"p":0.08,"c":0.09,"b":0.22,"r":0.24},
{"m":273,"g":0.15,"p":0.06,"c":0.09,"b":0.16,"r":0.18},
{"m":275,"g":0.12,"p":0.05,"c":0.08,"b":0.14,"r":0.16},
{"m":277,"g":0.1,"p":0.04,"c":0.07,"b":0.12,"r":0.14},
{"m":279,"g":0.08,"p":0.03,"c":0.07,"b":0.1,"r":0.12},
{"m":281,"g":0.12,"p":0.05,"c":0.09,"b":0.15,"r":0.16},
{"m":283,"g":0.15,"p":0.06,"c":0.09,"b":0.18,"r":0.2},
{"m":285,"g":0.2,"p":0.07,"c":0.1,"b":0.2,"r":0.22},
{"m":287,"g":0.15,"p":0.05,"c":0.09,"b":0.14,"r":0.16},
{"m":289,"g":0.08,"p":0.03,"c":0.07,"b":0.1,"r":0.12},
{"m":291,"g":0.15,"p":0.06,"c":0.09,"b":0.18,"r":0.2},
{"m":293,"g":0.3,"p":0.08,"c":0.1,"b":0.25,"r":0.22},
{"m":295,"g":0.2,"p":0.06,"c":0.09,"b":0.18,"r":0.2},
{"m":297,"g":0.08,"p":0.03,"c":0.07,"b":0.1,"r":0.12},
{"m":299,"g":0.06,"p":0.03,"c":0.06,"b":0.08,"r":0.1},
{"m":301,"g":0.08,"p":0.04,"c":0.07,"b":0.1,"r":0.12},
{"m":303,"g":0.1,"p":0.04,"c":0.08,"b":0.12,"r":0.14},
{"m":305,"g":0.15,"p":0.06,"c":0.09,"b":0.18,"r":0.2},
{"m":307,"g":0.2,"p":0.08,"c":0.1,"b":0.25,"r":0.26},
{"m":309,"g":0.25,"p":0.1,"c":0.1,"b":0.3,"r":0.28},
{"m":311,"g":0.1,"p":0.04,"c":0.08,"b":0.12,"r":0.14},
{"m":313,"g":0.08,"p":0.03,"c":0.07,"b":0.1,"r":0.12},
{"m":315,"g":0.12,"p":0.05,"c":0.09,"b":0.15,"r":0.16},
{"m":317,"g":0.22,"p":0.08,"c":0.1,"b":0.22,"r":0.3},
{"m":319,"g":0.15,"p":0.06,"c":0.09,"b":0.18,"r":0.25},
{"m":321,"g":0.2,"p":0.08,"c":0.1,"b":0.3,"r":0.3},
{"m":323,"g":0.2,"p":0.08,"c":0.1,"b":0.28,"r":0.3},
{"m":325,"g":0.06,"p":0.03,"c":0.06,"b":0.08,"r":0.1},
{"m":327,"g":0.2,"p":0.06,"c":0.08,"b":0.18,"r":0.2},
{"m":329,"g":0.35,"p":0.1,"c":0.1,"b":0.25,"r":0.22},
{"m":331,"g":0.1,"p":0.04,"c":0.07,"b":0.12,"r":0.14},
{"m":333,"g":0.04,"p":0.02,"c":0.06,"b":0.06,"r":0.08},
{"m":335,"g":0.04,"p":0.02,"c":0.06,"b":0.06,"r":0.07},
{"m":337,"g":0.08,"p":0.03,"c":0.07,"b":0.1,"r":0.12},
{"m":339,"g":0.15,"p":0.06,"c":0.08,"b":0.18,"r":0.2},
{"m":341,"g":0.12,"p":0.05,"c":0.08,"b":0.14,"r":0.16},
{"m":343,"g":0.1,"p":0.04,"c":0.08,"b":0.12,"r":0.14},
{"m":345,"g":0.12,"p":0.05,"c":0.09,"b":0.15,"r":0.18},
{"m":347,"g":0.15,"p":0.06,"c":0.09,"b":0.2,"r":0.2},
{"m":349,"g":0.12,"p":0.05,"c":0.08,"b":0.15,"r":0.16},
{"m":351,"g":0.08,"p":0.03,"c":0.07,"b":0.1,"r":0.12},
{"m":353,"g":0.12,"p":0.05,"c":0.09,"b":0.14,"r":0.16},
{"m":355,"g":0.1,"p":0.04,"c":0.08,"b":0.12,"r":0.14},
{"m":357,"g":0.12,"p":0.05,"c":0.09,"b":0.15,"r":0.16},
{"m":359,"g":0.08,"p":0.04,"c":0.07,"b":0.1,"r":0.12},
{"m":361,"g":0.1,"p":0.04,"c":0.08,"b":0.12,"r":0.14},
{"m":363,"g":0.12,"p":0.05,"c":0.09,"b":0.15,"r":0.18},
{"m":365,"g":0.15,"p":0.06,"c":0.09,"b":0.18,"r":0.2},
{"m":367,"g":0.22,"p":0.08,"c":0.1,"b":0.22,"r":0.24},
{"m":369,"g":0.4,"p":0.1,"c":0.11,"b":0.28,"r":0.26},
{"m":371,"g":0.45,"p":0.1,"c":0.12,"b":0.28,"r":0.26},
{"m":373,"g":0.3,"p":0.09,"c":0.12,"b":0.25,"r":0.22},
{"m":375,"g":0.25,"p":0.09,"c":0.11,"b":0.25,"r":0.24},
{"m":377,"g":0.3,"p":0.09,"c":0.1,"b":0.3,"r":0.22},
{"m":379,"g":0.2,"p":0.1,"c":0.1,"b":0.22,"r":0.24},
{"m":381,"g":0.15,"p":0.15,"c":0.11,"b":0.18,"r":0.2},
{"m":383,"g":0.25,"p":0.06,"c":0.1,"b":0.2,"r":0.22},
{"m":385,"g":0.3,"p":0.08,"c":0.11,"b":0.22,"r":0.24},
{"m":387,"g":0.1,"p":0.04,"c":0.09,"b":0.12,"r":0.14},
{"m":389,"g":0.12,"p":0.05,"c":0.09,"b":0.15,"r":0.16},
{"m":391,"g":0.1,"p":0.04,"c":0.08,"b":0.12,"r":0.14},
{"m":393,"g":0.08,"p":0.03,"c":0.07,"b":0.1,"r":0.12},
{"m":395,"g":0.06,"p":0.03,"c":0.06,"b":0.08,"r":0.1},
{"m":397,"g":0.08,"p":0.04,"c":0.07,"b":0.1,"r":0.12},
{"m":399,"g":0.1,"p":0.05,"c":0.08,"b":0.12,"r":0.14},
{"m":401,"g":0.12,"p":0.1,"c":0.09,"b":0.14,"r":0.16},
{"m":403,"g":0.1,"p":0.12,"c":0.09,"b":0.12,"r":0.14},
{"m":405,"g":0.15,"p":0.06,"c":0.09,"b":0.18,"r":0.2},
{"m":407,"g":0.1,"p":0.04,"c":0.08,"b":0.12,"r":0.14},
{"m":409,"g":0.12,"p":0.15,"c":0.09,"b":0.14,"r":0.16},
{"m":411,"g":0.12,"p":0.12,"c":0.09,"b":0.14,"r":0.16},
{"m":413,"g":0.2,"p":0.06,"c":0.09,"b":0.18,"r":0.2},
{"m":415,"g":0.15,"p":0.05,"c":0.08,"b":0.15,"r":0.18},
{"m":417,"g":0.12,"p":0.05,"c":0.08,"b":0.14,"r":0.16},
{"m":419,"g":0.1,"p":0.04,"c":0.08,"b":0.12,"r":0.14},
{"m":421,"g":0.08,"p":0.04,"c":0.07,"b":0.1,"r":0.12},
{"m":423,"g":0.15,"p":0.06,"c":0.09,"b":0.16,"r":0.18},
{"m":425,"g":0.3,"p":0.1,"c":0.1,"b":0.22,"r":0.2},
{"m":427,"g":0.3,"p":0.08,"c":0.09,"b":0.2,"r":0.18},
{"m":429,"g":0.15,"p":0.06,"c":0.1,"b":0.18,"r":0.2},
{"m":431,"g":0.18,"p":0.07,"c":0.11,"b":0.22,"r":0.2},
{"m":433,"g":0.2,"p":0.15,"c":0.1,"b":0.22,"r":0.24},
{"m":435,"g":0.15,"p":0.08,"c":0.08,"b":0.16,"r":0.18},
{"m":437,"g":0.08,"p":0.03,"c":0.07,"b":0.1,"r":0.12},
{"m":439,"g":0.08,"p":0.04,"c":0.1,"b":0.1,"r":0.12},
{"m":441,"g":0.08,"p":0.04,"c":0.08,"b":0.1,"r":0.12},
{"m":443,"g":0.1,"p":0.05,"c":0.09,"b":0.12,"r":0.14},
{"m":445,"g":0.1,"p":0.12,"c":0.09,"b":0.12,"r":0.14},
{"m":447,"g":0.15,"p":0.1,"c":0.1,"b":0.16,"r":0.18},
{"m":449,"g":0.3,"p":0.1,"c":0.11,"b":0.25,"r":0.22},
{"m":451,"g":0.3,"p":0.1,"c":0.1,"b":0.22,"r":0.2},
{"m":453,"g":0.06,"p":0.04,"c":0.06,"b":0.08,"r":0.08},
{"m":455,"g":0.03,"p":0.04,"c":0.04,"b":0.05,"r":0.04}
],
"mithi":[
{"m":0,"g":0.3,"p":0.05,"c":0.06,"b":0.2,"r":0.34},
{"m":2,"g":1.0,"p":0.1,"c":0.08,"b":0.3,"r":0.3},
{"m":4,"g":0.1,"p":0.02,"c":0.05,"b":0.1,"r":0.08},
{"m":6,"g":0.02,"p":-0.03,"c":0.04,"b":0.02,"r":0.03},
{"m":8,"g":0.05,"p":0.02,"c":0.24,"b":0.04,"r":0.05},
{"m":10,"g":0.01,"p":-0.02,"c":0.02,"b":0.01,"r":0.0},
{"m":12,"g":0.03,"p":0.02,"c":0.05,"b":0.03,"r":0.02},
{"m":14,"g":0.01,"p":-0.02,"c":0.02,"b":0.01,"r":0.01},
{"m":16,"g":0.05,"p":0.04,"c":0.06,"b":0.06,"r":0.05},
{"m":18,"g":0.3,"p":0.1,"c":0.08,"b":0.25,"r":0.22},
{"m":20,"g":0.77,"p":0.12,"c":0.1,"b":0.3,"r":0.22},
{"m":22,"g":0.29,"p":0.08,"c":0.06,"b":0.2,"r":0.18},
{"m":24,"g":0.05,"p":-0.04,"c":0.05,"b":0.05,"r":0.04},
{"m":26,"g":0.18,"p":0.06,"c":0.08,"b":0.15,"r":0.12},
{"m":28,"g":0.03,"p":0.02,"c":0.06,"b":0.04,"r":0.03},
{"m":30,"g":0.1,"p":0.05,"c":0.07,"b":0.12,"r":0.1},
{"m":32,"g":0.05,"p":0.03,"c":0.08,"b":0.06,"r":0.05},
{"m":34,"g":0.2,"p":0.08,"c":0.1,"b":0.22,"r":0.31},
{"m":36,"g":0.1,"p":0.05,"c":0.08,"b":0.12,"r":0.15},
{"m":38,"g":0.69,"p":0.1,"c":0.12,"b":0.25,"r":0.2},
{"m":40,"g":0.2,"p":0.08,"c":0.1,"b":0.22,"r":0.2},
{"m":42,"g":0.04,"p":0.02,"c":0.05,"b":0.05,"r":0.04},
{"m":44,"g":0.08,"p":0.03,"c":0.06,"b":0.07,"r":0.06},
{"m":46,"g":0.02,"p":0.05,"c":0.04,"b":0.03,"r":0.02},
{"m":48,"g":0.05,"p":0.1,"c":0.06,"b":0.06,"r":0.05},
{"m":50,"g":0.15,"p":0.27,"c":0.08,"b":0.12,"r":0.12},
{"m":52,"g":0.2,"p":0.08,"c":0.1,"b":0.22,"r":0.18},
{"m":54,"g":0.04,"p":0.02,"c":0.06,"b":0.05,"r":0.04},
{"m":56,"g":0.1,"p":0.04,"c":0.08,"b":0.12,"r":0.1},
{"m":58,"g":0.03,"p":0.02,"c":0.05,"b":0.04,"r":0.03},
{"m":60,"g":0.05,"p":0.02,"c":0.05,"b":0.06,"r":0.05},
{"m":62,"g":0.18,"p":0.06,"c":0.08,"b":0.18,"r":0.16},
{"m":64,"g":0.04,"p":-0.03,"c":0.05,"b":0.05,"r":0.04},
{"m":66,"g":0.12,"p":0.05,"c":0.07,"b":0.14,"r":0.12},
{"m":68,"g":0.22,"p":0.08,"c":0.09,"b":0.2,"r":0.18},
{"m":70,"g":0.05,"p":-0.05,"c":0.06,"b":0.06,"r":0.05},
{"m":72,"g":0.03,"p":0.02,"c":0.04,"b":0.04,"r":0.03},
{"m":74,"g":0.1,"p":0.04,"c":0.06,"b":0.1,"r":0.1},
{"m":76,"g":0.06,"p":0.03,"c":0.08,"b":0.07,"r":0.06},
{"m":78,"g":0.12,"p":0.05,"c":0.1,"b":0.14,"r":0.12},
{"m":80,"g":0.03,"p":0.02,"c":0.05,"b":0.04,"r":0.03},
{"m":82,"g":0.32,"p":0.1,"c":0.12,"b":0.2,"r":0.18},
{"m":84,"g":0.1,"p":0.04,"c":0.08,"b":0.12,"r":0.1},
{"m":86,"g":0.05,"p":0.02,"c":0.05,"b":0.06,"r":0.05},
{"m":88,"g":0.15,"p":0.1,"c":0.1,"b":0.2,"r":0.18},
{"m":90,"g":0.27,"p":0.08,"c":0.1,"b":0.22,"r":0.2},
{"m":92,"g":0.1,"p":0.04,"c":0.06,"b":0.12,"r":0.1},
{"m":94,"g":0.2,"p":0.06,"c":0.08,"b":0.22,"r":0.25},
{"m":96,"g":0.05,"p":0.02,"c":0.05,"b":0.06,"r":0.05},
{"m":98,"g":0.1,"p":0.04,"c":0.07,"b":0.1,"r":0.1},
{"m":100,"g":0.04,"p":0.02,"c":0.06,"b":0.05,"r":0.04},
{"m":102,"g":0.12,"p":0.05,"c":0.08,"b":0.14,"r":0.12},
{"m":104,"g":0.2,"p":0.08,"c":0.1,"b":0.24,"r":0.22},
{"m":106,"g":0.33,"p":0.12,"c":0.1,"b":0.25,"r":0.22},
{"m":108,"g":0.1,"p":0.04,"c":0.08,"b":0.12,"r":0.1},
{"m":110,"g":0.05,"p":0.02,"c":0.05,"b":0.06,"r":0.05},
{"m":112,"g":0.2,"p":0.08,"c":0.1,"b":0.2,"r":0.22},
{"m":114,"g":0.93,"p":0.89,"c":0.25,"b":0.9,"r":0.88},
{"m":116,"g":0.2,"p":0.1,"c":0.1,"b":0.2,"r":0.18},
{"m":118,"g":0.04,"p":0.02,"c":0.06,"b":0.05,"r":0.04},
{"m":120,"g":0.1,"p":0.04,"c":0.07,"b":0.1,"r":0.1},
{"m":122,"g":0.05,"p":0.02,"c":0.05,"b":0.06,"r":0.05},
{"m":124,"g":0.21,"p":0.08,"c":0.1,"b":0.18,"r":0.2},
{"m":126,"g":0.06,"p":0.03,"c":0.07,"b":0.07,"r":0.06},
{"m":128,"g":0.2,"p":0.06,"c":0.1,"b":0.22,"r":0.2},
{"m":130,"g":0.44,"p":0.1,"c":0.1,"b":0.25,"r":0.2},
{"m":132,"g":0.29,"p":0.08,"c":0.1,"b":0.22,"r":0.2},
{"m":134,"g":0.05,"p":0.02,"c":0.06,"b":0.06,"r":0.05},
{"m":136,"g":0.15,"p":0.06,"c":0.08,"b":0.16,"r":0.14},
{"m":138,"g":0.04,"p":0.02,"c":0.05,"b":0.05,"r":0.04},
{"m":140,"g":0.18,"p":0.06,"c":0.09,"b":0.2,"r":0.18},
{"m":142,"g":0.1,"p":0.04,"c":0.07,"b":0.12,"r":0.1},
{"m":144,"g":0.05,"p":0.02,"c":0.05,"b":0.06,"r":0.05},
{"m":146,"g":0.2,"p":0.06,"c":0.1,"b":0.2,"r":0.18},
{"m":148,"g":0.04,"p":0.02,"c":0.06,"b":0.05,"r":0.04},
{"m":150,"g":0.15,"p":0.05,"c":0.08,"b":0.17,"r":0.15},
{"m":152,"g":0.22,"p":0.08,"c":0.1,"b":0.2,"r":0.2},
{"m":154,"g":0.05,"p":0.02,"c":0.06,"b":0.06,"r":0.05},
{"m":156,"g":0.1,"p":0.04,"c":0.07,"b":0.12,"r":0.1},
{"m":158,"g":0.04,"p":0.02,"c":0.05,"b":0.05,"r":0.04},
{"m":160,"g":0.18,"p":0.06,"c":0.08,"b":0.18,"r":0.16},
{"m":162,"g":0.05,"p":0.02,"c":0.06,"b":0.06,"r":0.05},
{"m":164,"g":0.15,"p":0.05,"c":0.08,"b":0.16,"r":0.14},
{"m":166,"g":0.04,"p":0.02,"c":0.05,"b":0.05,"r":0.04},
{"m":168,"g":0.08,"p":0.03,"c":0.06,"b":0.1,"r":0.08},
{"m":170,"g":0.2,"p":0.06,"c":0.09,"b":0.2,"r":0.18},
{"m":172,"g":0.05,"p":0.02,"c":0.06,"b":0.06,"r":0.05},
{"m":174,"g":0.2,"p":0.08,"c":0.1,"b":0.23,"r":0.18},
{"m":176,"g":0.04,"p":0.02,"c":0.05,"b":0.05,"r":0.04},
{"m":178,"g":0.12,"p":0.05,"c":0.08,"b":0.14,"r":0.12},
{"m":180,"g":0.05,"p":0.02,"c":0.05,"b":0.06,"r":0.05},
{"m":182,"g":0.15,"p":0.05,"c":0.08,"b":0.16,"r":0.14},
{"m":184,"g":0.04,"p":-0.03,"c":0.05,"b":0.05,"r":0.04},
{"m":186,"g":0.18,"p":0.06,"c":0.09,"b":0.2,"r":0.18},
{"m":188,"g":0.2,"p":0.08,"c":0.1,"b":0.22,"r":0.23},
{"m":190,"g":0.33,"p":0.12,"c":0.1,"b":0.25,"r":0.2},
{"m":192,"g":0.1,"p":0.04,"c":0.07,"b":0.12,"r":0.1},
{"m":194,"g":0.05,"p":0.02,"c":0.05,"b":0.06,"r":0.05},
{"m":196,"g":0.15,"p":0.05,"c":0.08,"b":0.16,"r":0.14},
{"m":198,"g":0.04,"p":0.02,"c":0.05,"b":0.05,"r":0.04},
{"m":200,"g":0.2,"p":0.06,"c":0.1,"b":0.22,"r":0.18},
{"m":202,"g":0.06,"p":0.03,"c":0.06,"b":0.07,"r":0.06},
{"m":204,"g":0.1,"p":0.04,"c":0.07,"b":0.12,"r":0.1},
{"m":206,"g":0.22,"p":0.06,"c":0.09,"b":0.2,"r":0.18},
{"m":208,"g":0.05,"p":0.02,"c":0.06,"b":0.06,"r":0.05},
{"m":210,"g":0.15,"p":0.05,"c":0.08,"b":0.16,"r":0.14},
{"m":212,"g":0.04,"p":-0.03,"c":0.05,"b":0.05,"r":0.04},
{"m":214,"g":0.12,"p":0.05,"c":0.08,"b":0.14,"r":0.12},
{"m":216,"g":0.22,"p":0.06,"c":0.08,"b":0.2,"r":0.18},
{"m":218,"g":0.05,"p":0.02,"c":0.06,"b":0.06,"r":0.05},
{"m":220,"g":0.1,"p":0.04,"c":0.07,"b":0.12,"r":0.1},
{"m":222,"g":0.04,"p":0.02,"c":0.05,"b":0.05,"r":0.04},
{"m":224,"g":0.15,"p":0.05,"c":0.08,"b":0.16,"r":0.14},
{"m":226,"g":0.05,"p":0.02,"c":0.06,"b":0.06,"r":0.05},
{"m":228,"g":0.1,"p":0.04,"c":0.07,"b":0.12,"r":0.1},
{"m":230,"g":0.16,"p":0.05,"c":0.08,"b":0.15,"r":0.12},
{"m":232,"g":0.05,"p":0.02,"c":0.06,"b":0.06,"r":0.05},
{"m":234,"g":0.12,"p":0.05,"c":0.27,"b":0.12,"r":0.1},
{"m":236,"g":0.04,"p":0.02,"c":0.05,"b":0.05,"r":0.04},
{"m":238,"g":0.15,"p":0.05,"c":0.08,"b":0.16,"r":0.14},
{"m":240,"g":0.23,"p":0.06,"c":0.08,"b":0.22,"r":0.18},
{"m":242,"g":0.05,"p":0.02,"c":0.06,"b":0.06,"r":0.05},
{"m":244,"g":0.15,"p":0.05,"c":0.08,"b":0.16,"r":0.14},
{"m":246,"g":0.04,"p":0.02,"c":0.05,"b":0.05,"r":0.04},
{"m":248,"g":0.12,"p":0.05,"c":0.08,"b":0.14,"r":0.12},
{"m":250,"g":0.2,"p":0.06,"c":0.09,"b":0.2,"r":0.18},
{"m":252,"g":0.05,"p":0.02,"c":0.06,"b":0.06,"r":0.05},
{"m":254,"g":0.15,"p":0.05,"c":0.08,"b":0.16,"r":0.14},
{"m":256,"g":0.04,"p":-0.03,"c":0.05,"b":0.05,"r":0.04},
{"m":258,"g":0.2,"p":0.06,"c":0.1,"b":0.2,"r":0.22},
{"m":260,"g":0.3,"p":0.12,"c":0.1,"b":0.3,"r":0.36},
{"m":262,"g":0.59,"p":0.15,"c":0.12,"b":0.3,"r":0.32},
{"m":264,"g":0.35,"p":0.1,"c":0.1,"b":0.25,"r":0.22},
{"m":266,"g":0.28,"p":0.08,"c":0.1,"b":0.22,"r":0.2},
{"m":268,"g":0.05,"p":0.02,"c":0.06,"b":0.06,"r":0.05},
{"m":270,"g":0.15,"p":0.05,"c":0.08,"b":0.16,"r":0.14},
{"m":272,"g":0.05,"p":0.02,"c":0.05,"b":0.06,"r":0.05},
{"m":274,"g":0.31,"p":0.08,"c":0.1,"b":0.22,"r":0.2},
{"m":276,"g":0.05,"p":0.02,"c":0.06,"b":0.06,"r":0.05},
{"m":278,"g":0.12,"p":0.05,"c":0.08,"b":0.14,"r":0.12},
{"m":280,"g":0.04,"p":-0.04,"c":0.05,"b":0.05,"r":0.04},
{"m":282,"g":0.15,"p":0.05,"c":0.08,"b":0.16,"r":0.14},
{"m":284,"g":0.05,"p":0.02,"c":0.06,"b":0.06,"r":0.05},
{"m":286,"g":0.22,"p":0.06,"c":0.09,"b":0.2,"r":0.18},
{"m":288,"g":0.05,"p":0.02,"c":0.05,"b":0.06,"r":0.05},
{"m":290,"g":0.1,"p":0.04,"c":0.07,"b":0.12,"r":0.1},
{"m":292,"g":0.04,"p":0.02,"c":0.05,"b":0.05,"r":0.04},
{"m":294,"g":0.2,"p":0.06,"c":0.09,"b":0.2,"r":0.18},
{"m":296,"g":0.05,"p":0.02,"c":0.06,"b":0.06,"r":0.05},
{"m":298,"g":0.12,"p":0.05,"c":0.08,"b":0.14,"r":0.12},
{"m":300,"g":0.04,"p":0.02,"c":0.05,"b":0.05,"r":0.04},
{"m":302,"g":0.15,"p":0.05,"c":0.08,"b":0.16,"r":0.14},
{"m":304,"g":0.05,"p":0.02,"c":0.06,"b":0.06,"r":0.05},
{"m":306,"g":0.25,"p":0.1,"c":0.1,"b":0.25,"r":0.22},
{"m":308,"g":0.39,"p":0.2,"c":0.33,"b":0.32,"r":0.3},
{"m":310,"g":0.05,"p":0.02,"c":0.06,"b":0.06,"r":0.05},
{"m":312,"g":0.1,"p":0.04,"c":0.07,"b":0.12,"r":0.1},
{"m":314,"g":0.04,"p":0.02,"c":0.05,"b":0.05,"r":0.04},
{"m":316,"g":0.22,"p":0.06,"c":0.09,"b":0.18,"r":0.2},
{"m":318,"g":0.05,"p":0.02,"c":0.06,"b":0.06,"r":0.05},
{"m":320,"g":0.15,"p":0.05,"c":0.08,"b":0.16,"r":0.14},
{"m":322,"g":0.2,"p":0.1,"c":0.1,"b":0.22,"r":0.36},
{"m":324,"g":0.05,"p":0.02,"c":0.06,"b":0.06,"r":0.05},
{"m":326,"g":0.1,"p":0.04,"c":0.07,"b":0.12,"r":0.1},
{"m":328,"g":0.62,"p":0.15,"c":0.12,"b":0.3,"r":0.25},
{"m":330,"g":0.2,"p":0.06,"c":0.09,"b":0.2,"r":0.18},
{"m":332,"g":0.04,"p":0.02,"c":0.05,"b":0.05,"r":0.04},
{"m":334,"g":0.02,"p":-0.02,"c":0.04,"b":0.03,"r":0.02},
{"m":336,"g":0.05,"p":0.02,"c":0.05,"b":0.06,"r":0.05},
{"m":338,"g":0.15,"p":0.05,"c":0.08,"b":0.16,"r":0.14},
{"m":340,"g":0.22,"p":0.06,"c":0.09,"b":0.2,"r":0.18},
{"m":342,"g":0.29,"p":0.08,"c":0.1,"b":0.22,"r":0.2},
{"m":344,"g":0.05,"p":0.02,"c":0.06,"b":0.06,"r":0.05},
{"m":346,"g":0.12,"p":0.05,"c":0.08,"b":0.14,"r":0.12},
{"m":348,"g":0.22,"p":0.06,"c":0.09,"b":0.23,"r":0.2},
{"m":350,"g":0.15,"p":0.05,"c":0.08,"b":0.12,"r":0.28},
{"m":352,"g":0.05,"p":0.02,"c":0.06,"b":0.06,"r":0.05},
{"m":354,"g":0.1,"p":0.04,"c":0.07,"b":0.12,"r":0.1},
{"m":356,"g":0.04,"p":0.02,"c":0.05,"b":0.05,"r":0.04},
{"m":358,"g":0.12,"p":0.05,"c":0.08,"b":0.14,"r":0.12},
{"m":360,"g":0.05,"p":0.02,"c":0.06,"b":0.06,"r":0.05},
{"m":362,"g":0.15,"p":0.05,"c":0.08,"b":0.16,"r":0.14},
{"m":364,"g":0.23,"p":0.06,"c":0.09,"b":0.2,"r":0.23},
{"m":366,"g":0.05,"p":0.02,"c":0.06,"b":0.06,"r":0.05},
{"m":368,"g":0.2,"p":0.06,"c":0.1,"b":0.18,"r":0.16},
{"m":370,"g":0.54,"p":0.12,"c":0.12,"b":0.25,"r":0.2},
{"m":372,"g":0.35,"p":0.1,"c":0.1,"b":0.22,"r":0.2},
{"m":374,"g":0.15,"p":0.05,"c":0.1,"b":0.15,"r":0.14},
{"m":376,"g":0.25,"p":0.08,"c":0.1,"b":0.2,"r":0.18},
{"m":378,"g":0.1,"p":0.05,"c":0.08,"b":0.12,"r":0.1},
{"m":380,"g":0.45,"p":0.1,"c":0.12,"b":0.25,"r":0.22},
{"m":382,"g":0.39,"p":0.15,"c":0.1,"b":0.2,"r":0.18},
{"m":384,"g":0.28,"p":0.1,"c":0.1,"b":0.22,"r":0.2},
{"m":386,"g":0.08,"p":0.03,"c":0.06,"b":0.1,"r":0.08},
{"m":388,"g":0.15,"p":0.12,"c":0.1,"b":0.16,"r":0.14},
{"m":390,"g":0.05,"p":0.02,"c":0.06,"b":0.06,"r":0.05},
{"m":392,"g":0.12,"p":0.06,"c":0.08,"b":0.12,"r":0.12},
{"m":394,"g":0.05,"p":0.02,"c":0.05,"b":0.06,"r":0.05},
{"m":396,"g":0.1,"p":0.05,"c":0.07,"b":0.12,"r":0.1},
{"m":398,"g":0.04,"p":0.02,"c":0.05,"b":0.05,"r":0.04},
{"m":400,"g":0.15,"p":0.2,"c":0.08,"b":0.14,"r":0.12},
{"m":402,"g":0.05,"p":-0.03,"c":0.06,"b":0.06,"r":0.05},
{"m":404,"g":0.12,"p":0.05,"c":0.08,"b":0.14,"r":0.12},
{"m":406,"g":0.05,"p":0.18,"c":0.06,"b":0.06,"r":0.05},
{"m":408,"g":0.1,"p":0.05,"c":0.07,"b":0.12,"r":0.1},
{"m":410,"g":0.04,"p":0.02,"c":0.05,"b":0.05,"r":0.04},
{"m":412,"g":0.12,"p":0.06,"c":0.08,"b":0.14,"r":0.15},
{"m":414,"g":0.28,"p":0.1,"c":0.1,"b":0.23,"r":0.2},
{"m":416,"g":0.1,"p":0.04,"c":0.08,"b":0.12,"r":0.22},
{"m":418,"g":0.05,"p":0.02,"c":0.06,"b":0.06,"r":0.05},
{"m":420,"g":0.15,"p":0.18,"c":0.08,"b":0.14,"r":0.12},
{"m":422,"g":0.05,"p":0.02,"c":0.06,"b":0.06,"r":0.05},
{"m":424,"g":0.12,"p":0.05,"c":0.08,"b":0.14,"r":0.12},
{"m":426,"g":0.05,"p":0.18,"c":0.06,"b":0.06,"r":0.05},
{"m":428,"g":0.15,"p":0.05,"c":0.08,"b":0.16,"r":0.14},
{"m":430,"g":0.08,"p":0.03,"c":0.06,"b":0.1,"r":0.08},
{"m":432,"g":0.15,"p":0.12,"c":0.08,"b":0.16,"r":0.14},
{"m":434,"g":0.56,"p":0.15,"c":0.1,"b":0.24,"r":0.22},
{"m":436,"g":0.2,"p":0.08,"c":0.1,"b":0.18,"r":0.16},
{"m":438,"g":0.05,"p":0.02,"c":0.06,"b":0.06,"r":0.05},
{"m":440,"g":0.12,"p":0.05,"c":0.31,"b":0.12,"r":0.1},
{"m":442,"g":0.05,"p":0.02,"c":0.06,"b":0.06,"r":0.05},
{"m":444,"g":0.12,"p":0.05,"c":0.08,"b":0.12,"r":0.1},
{"m":446,"g":0.04,"p":0.02,"c":0.05,"b":0.05,"r":0.04},
{"m":448,"g":0.15,"p":0.12,"c":0.1,"b":0.16,"r":0.14},
{"m":450,"g":0.37,"p":0.12,"c":0.1,"b":0.25,"r":0.3},
{"m":452,"g":0.1,"p":0.05,"c":0.07,"b":0.12,"r":0.1},
{"m":454,"g":0.02,"p":-0.02,"c":0.03,"b":0.03,"r":0.02},
{"m":1,"g":0.6,"p":0.08,"c":0.07,"b":0.25,"r":0.3},
{"m":3,"g":0.5,"p":0.06,"c":0.07,"b":0.2,"r":0.18},
{"m":5,"g":0.05,"p":0.02,"c":0.06,"b":0.06,"r":0.05},
{"m":7,"g":0.03,"p":0.0,"c":0.12,"b":0.04,"r":0.05},
{"m":9,"g":0.03,"p":0.02,"c":0.1,"b":0.04,"r":0.03},
{"m":11,"g":0.02,"p":0.0,"c":0.03,"b":0.02,"r":0.02},
{"m":13,"g":0.02,"p":0.01,"c":0.04,"b":0.03,"r":0.02},
{"m":15,"g":0.03,"p":0.02,"c":0.05,"b":0.04,"r":0.05},
{"m":17,"g":0.15,"p":0.06,"c":0.07,"b":0.15,"r":0.12},
{"m":19,"g":0.45,"p":0.1,"c":0.09,"b":0.25,"r":0.2},
{"m":21,"g":0.5,"p":0.1,"c":0.09,"b":0.28,"r":0.2},
{"m":23,"g":0.12,"p":0.05,"c":0.07,"b":0.12,"r":0.1},
{"m":25,"g":0.08,"p":0.03,"c":0.06,"b":0.1,"r":0.08},
{"m":27,"g":0.08,"p":0.03,"c":0.07,"b":0.1,"r":0.1},
{"m":29,"g":0.06,"p":0.03,"c":0.06,"b":0.08,"r":0.08},
{"m":31,"g":0.08,"p":0.04,"c":0.08,"b":0.1,"r":0.12},
{"m":33,"g":0.12,"p":0.05,"c":0.09,"b":0.15,"r":0.18},
{"m":35,"g":0.15,"p":0.06,"c":0.1,"b":0.2,"r":0.25},
{"m":37,"g":0.3,"p":0.06,"c":0.1,"b":0.2,"r":0.18},
{"m":39,"g":0.45,"p":0.08,"c":0.1,"b":0.22,"r":0.2},
{"m":41,"g":0.1,"p":0.04,"c":0.08,"b":0.12,"r":0.12},
{"m":43,"g":0.06,"p":0.03,"c":0.06,"b":0.08,"r":0.08},
{"m":45,"g":0.05,"p":0.03,"c":0.06,"b":0.06,"r":0.06},
{"m":47,"g":0.04,"p":0.06,"c":0.05,"b":0.05,"r":0.05},
{"m":49,"g":0.1,"p":0.18,"c":0.07,"b":0.1,"r":0.1},
{"m":51,"g":0.12,"p":0.15,"c":0.08,"b":0.14,"r":0.12},
{"m":53,"g":0.12,"p":0.05,"c":0.08,"b":0.14,"r":0.15},
{"m":55,"g":0.08,"p":0.03,"c":0.07,"b":0.1,"r":0.1},
{"m":57,"g":0.06,"p":0.03,"c":0.06,"b":0.08,"r":0.08},
{"m":59,"g":0.05,"p":0.02,"c":0.05,"b":0.06,"r":0.06},
{"m":61,"g":0.1,"p":0.04,"c":0.07,"b":0.12,"r":0.1},
{"m":63,"g":0.12,"p":0.05,"c":0.07,"b":0.12,"r":0.12},
{"m":65,"g":0.08,"p":0.03,"c":0.06,"b":0.1,"r":0.1},
{"m":67,"g":0.15,"p":0.06,"c":0.08,"b":0.16,"r":0.15},
{"m":69,"g":0.12,"p":0.04,"c":0.08,"b":0.12,"r":0.12},
{"m":71,"g":0.04,"p":0.0,"c":0.05,"b":0.05,"r":0.05},
{"m":73,"g":0.06,"p":0.03,"c":0.05,"b":0.08,"r":0.07},
{"m":75,"g":0.08,"p":0.04,"c":0.07,"b":0.1,"r":0.1},
{"m":77,"g":0.1,"p":0.04,"c":0.08,"b":0.12,"r":0.12},
{"m":79,"g":0.08,"p":0.04,"c":0.07,"b":0.1,"r":0.1},
{"m":81,"g":0.15,"p":0.06,"c":0.09,"b":0.15,"r":0.14},
{"m":83,"g":0.2,"p":0.08,"c":0.1,"b":0.18,"r":0.16},
{"m":85,"g":0.06,"p":0.03,"c":0.06,"b":0.08,"r":0.08},
{"m":87,"g":0.1,"p":0.05,"c":0.08,"b":0.14,"r":0.14},
{"m":89,"g":0.2,"p":0.08,"c":0.1,"b":0.2,"r":0.2},
{"m":91,"g":0.15,"p":0.06,"c":0.08,"b":0.15,"r":0.14},
{"m":93,"g":0.12,"p":0.05,"c":0.07,"b":0.15,"r":0.18},
{"m":95,"g":0.1,"p":0.04,"c":0.07,"b":0.12,"r":0.14},
{"m":97,"g":0.06,"p":0.03,"c":0.05,"b":0.08,"r":0.08},
{"m":99,"g":0.08,"p":0.03,"c":0.06,"b":0.1,"r":0.1},
{"m":101,"g":0.08,"p":0.04,"c":0.07,"b":0.1,"r":0.1},
{"m":103,"g":0.15,"p":0.06,"c":0.09,"b":0.18,"r":0.18},
{"m":105,"g":0.25,"p":0.1,"c":0.1,"b":0.22,"r":0.22},
{"m":107,"g":0.2,"p":0.08,"c":0.09,"b":0.18,"r":0.16},
{"m":109,"g":0.06,"p":0.03,"c":0.06,"b":0.08,"r":0.08},
{"m":111,"g":0.1,"p":0.05,"c":0.08,"b":0.14,"r":0.15},
{"m":113,"g":0.4,"p":0.3,"c":0.15,"b":0.4,"r":0.38},
{"m":115,"g":0.4,"p":0.35,"c":0.14,"b":0.38,"r":0.36},
{"m":117,"g":0.08,"p":0.04,"c":0.07,"b":0.1,"r":0.1},
{"m":119,"g":0.06,"p":0.03,"c":0.06,"b":0.08,"r":0.08},
{"m":121,"g":0.08,"p":0.03,"c":0.06,"b":0.1,"r":0.1},
{"m":123,"g":0.12,"p":0.05,"c":0.08,"b":0.14,"r":0.15},
{"m":125,"g":0.12,"p":0.05,"c":0.08,"b":0.12,"r":0.14},
{"m":127,"g":0.12,"p":0.05,"c":0.08,"b":0.14,"r":0.14},
{"m":129,"g":0.3,"p":0.08,"c":0.1,"b":0.22,"r":0.2},
{"m":131,"g":0.35,"p":0.09,"c":0.1,"b":0.22,"r":0.2},
{"m":133,"g":0.15,"p":0.06,"c":0.09,"b":0.15,"r":0.14},
{"m":135,"g":0.1,"p":0.04,"c":0.07,"b":0.12,"r":0.1},
{"m":137,"g":0.08,"p":0.04,"c":0.07,"b":0.1,"r":0.1},
{"m":139,"g":0.1,"p":0.04,"c":0.08,"b":0.12,"r":0.12},
{"m":141,"g":0.12,"p":0.05,"c":0.08,"b":0.15,"r":0.14},
{"m":143,"g":0.06,"p":0.03,"c":0.06,"b":0.08,"r":0.08},
{"m":145,"g":0.12,"p":0.05,"c":0.08,"b":0.14,"r":0.12},
{"m":147,"g":0.1,"p":0.04,"c":0.08,"b":0.12,"r":0.12},
{"m":149,"g":0.1,"p":0.04,"c":0.07,"b":0.12,"r":0.1},
{"m":151,"g":0.18,"p":0.07,"c":0.09,"b":0.18,"r":0.18},
{"m":153,"g":0.12,"p":0.05,"c":0.08,"b":0.14,"r":0.12},
{"m":155,"g":0.08,"p":0.03,"c":0.06,"b":0.1,"r":0.08},
{"m":157,"g":0.06,"p":0.03,"c":0.06,"b":0.08,"r":0.08},
{"m":159,"g":0.1,"p":0.04,"c":0.07,"b":0.12,"r":0.1},
{"m":161,"g":0.12,"p":0.05,"c":0.08,"b":0.12,"r":0.12},
{"m":163,"g":0.1,"p":0.04,"c":0.07,"b":0.12,"r":0.1},
{"m":165,"g":0.08,"p":0.03,"c":0.06,"b":0.1,"r":0.1},
{"m":167,"g":0.06,"p":0.03,"c":0.05,"b":0.08,"r":0.07},
{"m":169,"g":0.15,"p":0.05,"c":0.08,"b":0.15,"r":0.14},
{"m":171,"g":0.12,"p":0.05,"c":0.08,"b":0.14,"r":0.12},
{"m":173,"g":0.12,"p":0.05,"c":0.08,"b":0.15,"r":0.12},
{"m":175,"g":0.1,"p":0.04,"c":0.07,"b":0.12,"r":0.1},
{"m":177,"g":0.08,"p":0.03,"c":0.06,"b":0.1,"r":0.08},
{"m":179,"g":0.08,"p":0.04,"c":0.07,"b":0.1,"r":0.1},
{"m":181,"g":0.1,"p":0.04,"c":0.07,"b":0.12,"r":0.1},
{"m":183,"g":0.1,"p":0.04,"c":0.07,"b":0.1,"r":0.1},
{"m":185,"g":0.12,"p":0.05,"c":0.08,"b":0.14,"r":0.12},
{"m":187,"g":0.2,"p":0.07,"c":0.09,"b":0.2,"r":0.2},
{"m":189,"g":0.28,"p":0.1,"c":0.1,"b":0.24,"r":0.22},
{"m":191,"g":0.2,"p":0.08,"c":0.09,"b":0.18,"r":0.16},
{"m":193,"g":0.06,"p":0.03,"c":0.05,"b":0.08,"r":0.08},
{"m":195,"g":0.1,"p":0.04,"c":0.07,"b":0.12,"r":0.1},
{"m":197,"g":0.1,"p":0.04,"c":0.07,"b":0.1,"r":0.1},
{"m":199,"g":0.12,"p":0.05,"c":0.08,"b":0.14,"r":0.12},
{"m":201,"g":0.12,"p":0.05,"c":0.08,"b":0.14,"r":0.12},
{"m":203,"g":0.08,"p":0.03,"c":0.06,"b":0.1,"r":0.08},
{"m":205,"g":0.15,"p":0.05,"c":0.08,"b":0.15,"r":0.14},
{"m":207,"g":0.12,"p":0.05,"c":0.08,"b":0.14,"r":0.12},
{"m":209,"g":0.1,"p":0.04,"c":0.07,"b":0.12,"r":0.1},
{"m":211,"g":0.1,"p":0.04,"c":0.07,"b":0.1,"r":0.1},
{"m":213,"g":0.08,"p":0.03,"c":0.06,"b":0.1,"r":0.08},
{"m":215,"g":0.15,"p":0.05,"c":0.08,"b":0.15,"r":0.14},
{"m":217,"g":0.12,"p":0.05,"c":0.08,"b":0.14,"r":0.12},
{"m":219,"g":0.08,"p":0.03,"c":0.06,"b":0.1,"r":0.08},
{"m":221,"g":0.08,"p":0.03,"c":0.06,"b":0.08,"r":0.08},
{"m":223,"g":0.1,"p":0.04,"c":0.07,"b":0.12,"r":0.1},
{"m":225,"g":0.1,"p":0.04,"c":0.07,"b":0.12,"r":0.1},
{"m":227,"g":0.08,"p":0.03,"c":0.06,"b":0.1,"r":0.08},
{"m":229,"g":0.12,"p":0.05,"c":0.08,"b":0.14,"r":0.12},
{"m":231,"g":0.1,"p":0.04,"c":0.07,"b":0.12,"r":0.1},
{"m":233,"g":0.08,"p":0.04,"c":0.15,"b":0.1,"r":0.08},
{"m":235,"g":0.08,"p":0.04,"c":0.12,"b":0.1,"r":0.08},
{"m":237,"g":0.1,"p":0.04,"c":0.07,"b":0.1,"r":0.1},
{"m":239,"g":0.18,"p":0.05,"c":0.08,"b":0.18,"r":0.16},
{"m":241,"g":0.12,"p":0.05,"c":0.08,"b":0.14,"r":0.12},
{"m":243,"g":0.1,"p":0.04,"c":0.07,"b":0.12,"r":0.1},
{"m":245,"g":0.1,"p":0.04,"c":0.07,"b":0.12,"r":0.1},
{"m":247,"g":0.08,"p":0.03,"c":0.06,"b":0.1,"r":0.08},
{"m":249,"g":0.15,"p":0.05,"c":0.08,"b":0.16,"r":0.15},
{"m":251,"g":0.1,"p":0.04,"c":0.07,"b":0.12,"r":0.1},
{"m":253,"g":0.1,"p":0.04,"c":0.07,"b":0.12,"r":0.1},
{"m":255,"g":0.1,"p":0.04,"c":0.07,"b":0.1,"r":0.1},
{"m":257,"g":0.12,"p":0.05,"c":0.08,"b":0.14,"r":0.14},
{"m":259,"g":0.25,"p":0.1,"c":0.1,"b":0.25,"r":0.28},
{"m":261,"g":0.4,"p":0.12,"c":0.11,"b":0.3,"r":0.34},
{"m":263,"g":0.45,"p":0.12,"c":0.11,"b":0.28,"r":0.28},
{"m":265,"g":0.3,"p":0.1,"c":0.1,"b":0.22,"r":0.2},
{"m":267,"g":0.15,"p":0.05,"c":0.08,"b":0.15,"r":0.14},
{"m":269,"g":0.1,"p":0.04,"c":0.07,"b":0.12,"r":0.1},
{"m":271,"g":0.1,"p":0.04,"c":0.07,"b":0.12,"r":0.1},
{"m":273,"g":0.15,"p":0.05,"c":0.08,"b":0.15,"r":0.14},
{"m":275,"g":0.15,"p":0.05,"c":0.08,"b":0.14,"r":0.12},
{"m":277,"g":0.08,"p":0.03,"c":0.06,"b":0.1,"r":0.08},
{"m":279,"g":0.08,"p":0.03,"c":0.06,"b":0.1,"r":0.08},
{"m":281,"g":0.1,"p":0.04,"c":0.07,"b":0.12,"r":0.1},
{"m":283,"g":0.1,"p":0.04,"c":0.07,"b":0.12,"r":0.1},
{"m":285,"g":0.12,"p":0.05,"c":0.08,"b":0.14,"r":0.12},
{"m":287,"g":0.12,"p":0.05,"c":0.08,"b":0.12,"r":0.12},
{"m":289,"g":0.08,"p":0.03,"c":0.06,"b":0.1,"r":0.08},
{"m":291,"g":0.08,"p":0.03,"c":0.06,"b":0.1,"r":0.08},
{"m":293,"g":0.12,"p":0.05,"c":0.08,"b":0.14,"r":0.12},
{"m":295,"g":0.12,"p":0.05,"c":0.08,"b":0.12,"r":0.12},
{"m":297,"g":0.08,"p":0.03,"c":0.06,"b":0.1,"r":0.08},
{"m":299,"g":0.08,"p":0.03,"c":0.06,"b":0.1,"r":0.08},
{"m":301,"g":0.1,"p":0.04,"c":0.07,"b":0.12,"r":0.1},
{"m":303,"g":0.1,"p":0.04,"c":0.07,"b":0.12,"r":0.1},
{"m":305,"g":0.15,"p":0.06,"c":0.08,"b":0.15,"r":0.14},
{"m":307,"g":0.3,"p":0.12,"c":0.15,"b":0.3,"r":0.26},
{"m":309,"g":0.2,"p":0.1,"c":0.15,"b":0.2,"r":0.18},
{"m":311,"g":0.08,"p":0.03,"c":0.06,"b":0.1,"r":0.08},
{"m":313,"g":0.08,"p":0.03,"c":0.06,"b":0.1,"r":0.08},
{"m":315,"g":0.12,"p":0.05,"c":0.08,"b":0.14,"r":0.12},
{"m":317,"g":0.12,"p":0.05,"c":0.08,"b":0.12,"r":0.14},
{"m":319,"g":0.1,"p":0.04,"c":0.07,"b":0.12,"r":0.1},
{"m":321,"g":0.15,"p":0.06,"c":0.09,"b":0.18,"r":0.25},
{"m":323,"g":0.12,"p":0.06,"c":0.08,"b":0.15,"r":0.22},
{"m":325,"g":0.08,"p":0.03,"c":0.06,"b":0.1,"r":0.08},
{"m":327,"g":0.3,"p":0.08,"c":0.09,"b":0.2,"r":0.18},
{"m":329,"g":0.35,"p":0.1,"c":0.1,"b":0.22,"r":0.2},
{"m":331,"g":0.1,"p":0.04,"c":0.07,"b":0.12,"r":0.1},
{"m":333,"g":0.03,"p":0.02,"c":0.05,"b":0.04,"r":0.04},
{"m":335,"g":0.04,"p":0.02,"c":0.05,"b":0.05,"r":0.05},
{"m":337,"g":0.1,"p":0.04,"c":0.07,"b":0.12,"r":0.1},
{"m":339,"g":0.18,"p":0.06,"c":0.08,"b":0.18,"r":0.16},
{"m":341,"g":0.22,"p":0.07,"c":0.09,"b":0.2,"r":0.18},
{"m":343,"g":0.18,"p":0.06,"c":0.09,"b":0.16,"r":0.15},
{"m":345,"g":0.08,"p":0.03,"c":0.06,"b":0.1,"r":0.08},
{"m":347,"g":0.15,"p":0.05,"c":0.08,"b":0.18,"r":0.15},
{"m":349,"g":0.18,"p":0.06,"c":0.08,"b":0.16,"r":0.22},
{"m":351,"g":0.1,"p":0.04,"c":0.07,"b":0.1,"r":0.15},
{"m":353,"g":0.08,"p":0.03,"c":0.06,"b":0.1,"r":0.08},
{"m":355,"g":0.06,"p":0.03,"c":0.06,"b":0.08,"r":0.08},
{"m":357,"g":0.08,"p":0.04,"c":0.06,"b":0.1,"r":0.08},
{"m":359,"g":0.08,"p":0.03,"c":0.06,"b":0.1,"r":0.08},
{"m":361,"g":0.1,"p":0.04,"c":0.07,"b":0.12,"r":0.1},
{"m":363,"g":0.2,"p":0.06,"c":0.08,"b":0.18,"r":0.18},
{"m":365,"g":0.12,"p":0.05,"c":0.08,"b":0.12,"r":0.12},
{"m":367,"g":0.12,"p":0.05,"c":0.08,"b":0.12,"r":0.12},
{"m":369,"g":0.35,"p":0.09,"c":0.1,"b":0.22,"r":0.18},
{"m":371,"g":0.45,"p":0.1,"c":0.11,"b":0.22,"r":0.2},
{"m":373,"g":0.25,"p":0.08,"c":0.1,"b":0.2,"r":0.18},
{"m":375,"g":0.2,"p":0.07,"c":0.1,"b":0.18,"r":0.16},
{"m":377,"g":0.2,"p":0.07,"c":0.09,"b":0.18,"r":0.16},
{"m":379,"g":0.3,"p":0.08,"c":0.1,"b":0.2,"r":0.18},
{"m":381,"g":0.42,"p":0.12,"c":0.11,"b":0.22,"r":0.2},
{"m":383,"g":0.3,"p":0.1,"c":0.1,"b":0.18,"r":0.16},
{"m":385,"g":0.15,"p":0.06,"c":0.08,"b":0.15,"r":0.14},
{"m":387,"g":0.1,"p":0.06,"c":0.08,"b":0.12,"r":0.1},
{"m":389,"g":0.1,"p":0.08,"c":0.08,"b":0.12,"r":0.1},
{"m":391,"g":0.08,"p":0.04,"c":0.06,"b":0.1,"r":0.08},
{"m":393,"g":0.08,"p":0.04,"c":0.06,"b":0.1,"r":0.1},
{"m":395,"g":0.08,"p":0.03,"c":0.06,"b":0.1,"r":0.08},
{"m":397,"g":0.06,"p":0.03,"c":0.06,"b":0.08,"r":0.08},
{"m":399,"g":0.1,"p":0.1,"c":0.07,"b":0.12,"r":0.1},
{"m":401,"g":0.1,"p":0.1,"c":0.07,"b":0.1,"r":0.1},
{"m":403,"g":0.08,"p":0.03,"c":0.06,"b":0.1,"r":0.08},
{"m":405,"g":0.08,"p":0.1,"c":0.07,"b":0.1,"r":0.08},
{"m":407,"g":0.08,"p":0.08,"c":0.06,"b":0.1,"r":0.08},
{"m":409,"g":0.06,"p":0.03,"c":0.06,"b":0.08,"r":0.08},
{"m":411,"g":0.08,"p":0.04,"c":0.06,"b":0.1,"r":0.1},
{"m":413,"g":0.2,"p":0.08,"c":0.09,"b":0.18,"r":0.18},
{"m":415,"g":0.2,"p":0.08,"c":0.09,"b":0.2,"r":0.18},
{"m":417,"g":0.08,"p":0.03,"c":0.07,"b":0.1,"r":0.15},
{"m":419,"g":0.1,"p":0.08,"c":0.07,"b":0.1,"r":0.1},
{"m":421,"g":0.1,"p":0.1,"c":0.07,"b":0.1,"r":0.1},
{"m":423,"g":0.08,"p":0.03,"c":0.06,"b":0.1,"r":0.08},
{"m":425,"g":0.08,"p":0.1,"c":0.07,"b":0.1,"r":0.08},
{"m":427,"g":0.1,"p":0.08,"c":0.07,"b":0.12,"r":0.1},
{"m":429,"g":0.12,"p":0.04,"c":0.07,"b":0.14,"r":0.12},
{"m":431,"g":0.1,"p":0.06,"c":0.07,"b":0.12,"r":0.1},
{"m":433,"g":0.3,"p":0.12,"c":0.09,"b":0.2,"r":0.18},
{"m":435,"g":0.35,"p":0.12,"c":0.1,"b":0.2,"r":0.18},
{"m":437,"g":0.1,"p":0.05,"c":0.08,"b":0.12,"r":0.1},
{"m":439,"g":0.08,"p":0.03,"c":0.15,"b":0.1,"r":0.08},
{"m":441,"g":0.08,"p":0.04,"c":0.2,"b":0.1,"r":0.08},
{"m":443,"g":0.08,"p":0.04,"c":0.07,"b":0.1,"r":0.08},
{"m":445,"g":0.08,"p":0.03,"c":0.06,"b":0.08,"r":0.08},
{"m":447,"g":0.1,"p":0.08,"c":0.08,"b":0.12,"r":0.1},
{"m":449,"g":0.25,"p":0.1,"c":0.1,"b":0.2,"r":0.22},
{"m":451,"g":0.25,"p":0.1,"c":0.09,"b":0.18,"r":0.2},
{"m":453,"g":0.06,"p":0.03,"c":0.05,"b":0.08,"r":0.06},
{"m":455,"g":0.02,"p":0.0,"c":0.03,"b":0.03,"r":0.02}
]
},
"vconcat":[
{
"width":1200,"height":554,
"data":{"name":"ghotki"},
"layer":[
{"data":{"values":[{}]},"mark":{"type":"rule","color":"#a3a3a3","strokeWidth":5},
 "encoding":{"x":{"datum":0,"type":"quantitative"},"x2":{"datum":456},"y":{"datum":0,"type":"quantitative"}}},
{"transform":[{"fold":["g","p","c","b","r"],"as":["series","value"]}],
 "mark":{"type":"line","strokeWidth":4.5,"strokeCap":"round","strokeJoin":"round"},
 "encoding":{
  "x":{"field":"m","type":"quantitative","scale":{"domain":[-46.05,495.7],"nice":false,"zero":false},
   "axis":{"values":[0,19,38,57,76,95,114,133,152,171,190,209,228,247,266,285,304,323,342,361,380,399,418,437],"labelExpr":"timeFormat(datetime(1983, datum.value, 1), '%B %Y')","labelAngle":45,"labelAlign":"left","labelBaseline":"top","labelPadding":10,"ticks":false,"domain":false,"grid":false,"offset":-135,"title":null,"labelFont":"Liberation Serif","labelFontWeight":"bold","labelFontSize":20,"labelColor":"black","labelOverlap":false,"labelBound":false,"labelFlush":false}},
  "y":{"field":"value","type":"quantitative","scale":{"domain":[-0.398,1.236],"nice":false,"zero":false},
   "axis":{"values":[-0.2,0,0.2,0.4,0.6,0.8,1,1.2],"labelExpr":"datum.value < 0 ? '-' + format(-datum.value, '.1f') : format(datum.value, '.1f')","offset":-99,"domain":false,"ticks":true,"tickSize":5,"tickWidth":3,"tickColor":"black","labelPadding":12,"grid":false,"labelFont":"Liberation Serif","labelFontWeight":"bold","labelFontSize":20,"labelColor":"black","title":"Normalized\u00a0 Precipitation","titleFont":"Liberation Serif","titleFontSize":26,"titleFontWeight":"bold","titleColor":"black","titleAngle":-90,"titleBaseline":"alphabetic","titleAlign":"center","titleX":-58,"titleY":325}},
  "color":{"field":"series","type":"nominal","scale":{"domain":["g","p","c","b","r"],"range":["#231f20","#b453a8","#2bb04b","#3f56a8","#ee2326"]},
   "legend":{"values":["g","p","c"],"labelExpr":"datum.label == 'g' ? 'GLDAS' : datum.label == 'p' ? 'MR' : 'MR-PC'","title":null,"orient":"none","legendX":346,"legendY":1070,"direction":"horizontal","symbolType":"stroke","symbolSize":4356,"symbolStrokeWidth":5,"labelFont":"Liberation Sans Narrow, Roboto Condensed, sans-serif","labelFontWeight":"bold","labelFontSize":20,"labelColor":"black","columnPadding":58,"labelOffset":8,"padding":0,"encode":{"symbols":{"update":{"strokeCap":{"value":"round"},"strokeDash":{"signal":"datum.value == 'p' ? [1,0] : [8,9]"}}}}}},
  "strokeDash":{"field":"series","type":"nominal","scale":{"domain":["g","p","c","b","r"],"range":[[5,8],[1,0],[5,8],[5,8],[5,8]]},
   "legend":{"values":["g","p","c"],"labelExpr":"datum.label == 'g' ? 'GLDAS' : datum.label == 'p' ? 'MR' : 'MR-PC'","title":null,"orient":"none","legendX":346,"legendY":1070,"direction":"horizontal","symbolType":"stroke","symbolSize":4356,"symbolStrokeWidth":5,"labelFont":"Liberation Sans Narrow, Roboto Condensed, sans-serif","labelFontWeight":"bold","labelFontSize":20,"labelColor":"black","columnPadding":58,"labelOffset":8,"padding":0,"encode":{"symbols":{"update":{"strokeCap":{"value":"round"},"strokeDash":{"signal":"datum.value == 'p' ? [1,0] : [8,9]"}}}}}}
 }},
{"data":{"values":[{}]},"mark":{"type":"rule","color":"#1a1a1a","strokeWidth":4.5,"strokeDash":[17,15,4,16]},
 "encoding":{"x":{"datum":354,"type":"quantitative"},"y":{"datum":0,"type":"quantitative"},"y2":{"datum":1.236}}},
{"data":{"values":[{}]},"mark":{"type":"rule","color":"black","strokeWidth":3.5},
 "encoding":{"x":{"datum":-1.35,"type":"quantitative"},"y":{"datum":-0.2,"type":"quantitative"},"y2":{"datum":1.2}}},
{"data":{"values":[{}]},"mark":{"type":"text","text":"Training","align":"left","baseline":"alphabetic","font":"Liberation Serif","fontWeight":"bold","fontSize":28,"color":"black"},
 "encoding":{"x":{"datum":37,"type":"quantitative"},"y":{"datum":1.088,"type":"quantitative"}}},
{"data":{"values":[{}]},"mark":{"type":"text","text":"Case","align":"left","baseline":"alphabetic","font":"Liberation Serif","fontWeight":"bold","fontSize":28,"color":"black"},
 "encoding":{"x":{"datum":37,"type":"quantitative"},"y":{"datum":0.985,"type":"quantitative"}}},
{"data":{"values":[{}]},"mark":{"type":"text","text":"Ghotki","align":"center","baseline":"alphabetic","font":"Liberation Serif","fontWeight":"bold","fontSize":28,"color":"black"},
 "encoding":{"x":{"datum":234,"type":"quantitative"},"y":{"datum":1.074,"type":"quantitative"}}},
{"data":{"values":[{}]},"mark":{"type":"text","text":"Test","align":"left","baseline":"alphabetic","font":"Liberation Serif","fontWeight":"bold","fontSize":28,"color":"black"},
 "encoding":{"x":{"datum":383.7,"type":"quantitative"},"y":{"datum":1.088,"type":"quantitative"}}}
]
},
{
"width":1200,"height":590,
"data":{"name":"mithi"},
"layer":[
{"data":{"values":[{}]},"mark":{"type":"rule","color":"#a3a3a3","strokeWidth":5},
 "encoding":{"x":{"datum":0,"type":"quantitative"},"x2":{"datum":456},"y":{"datum":0,"type":"quantitative"}}},
{"transform":[{"fold":["g","p","c","b","r"],"as":["series","value"]}],
 "mark":{"type":"line","strokeWidth":4.5,"strokeCap":"round","strokeJoin":"round"},
 "encoding":{
  "x":{"field":"m","type":"quantitative","scale":{"domain":[-48.55,496.0],"nice":false,"zero":false},
   "axis":{"values":[0,19,38,57,76,95,114,133,152,171,190,209,228,247,266,285,304,323,342,361,380,399,418,437],"labelExpr":"timeFormat(datetime(1983, datum.value, 1), '%B %Y')","labelAngle":45,"labelAlign":"left","labelBaseline":"top","labelPadding":10,"ticks":false,"domain":false,"grid":false,"offset":-167,"title":null,"labelFont":"Liberation Serif","labelFontWeight":"bold","labelFontSize":20,"labelColor":"black","labelOverlap":false,"labelBound":false,"labelFlush":false}},
  "y":{"field":"value","type":"quantitative","scale":{"domain":[-0.5,1.266],"nice":false,"zero":false},
   "axis":{"values":[-0.2,0,0.2,0.4,0.6,0.8,1,1.2],"labelExpr":"datum.value < 0 ? '-' + format(-datum.value, '.1f') : format(datum.value, '.1f')","offset":-105,"domain":false,"ticks":true,"tickSize":5,"tickWidth":3,"tickColor":"black","labelPadding":12,"grid":false,"labelFont":"Liberation Serif","labelFontWeight":"bold","labelFontSize":20,"labelColor":"black","title":"Normalized\u00a0 Precipitation","titleFont":"Liberation Serif","titleFontSize":26,"titleFontWeight":"bold","titleColor":"black","titleAngle":-90,"titleBaseline":"alphabetic","titleAlign":"center","titleX":-55,"titleY":326}},
  "color":{"field":"series","type":"nominal","scale":{"domain":["g","p","c","b","r"],"range":["#231f20","#b453a8","#2bb04b","#3f56a8","#ee2326"]},
   "legend":{"values":["g","p","c"],"labelExpr":"datum.label == 'g' ? 'GLDAS' : datum.label == 'p' ? 'MR' : 'MR-PC'","title":null,"orient":"none","legendX":346,"legendY":1070,"direction":"horizontal","symbolType":"stroke","symbolSize":4356,"symbolStrokeWidth":5,"labelFont":"Liberation Sans Narrow, Roboto Condensed, sans-serif","labelFontWeight":"bold","labelFontSize":20,"labelColor":"black","columnPadding":58,"labelOffset":8,"padding":0,"encode":{"symbols":{"update":{"strokeCap":{"value":"round"},"strokeDash":{"signal":"datum.value == 'p' ? [1,0] : [8,9]"}}}}}},
  "strokeDash":{"field":"series","type":"nominal","scale":{"domain":["g","p","c","b","r"],"range":[[5,8],[1,0],[5,8],[5,8],[5,8]]},
   "legend":{"values":["g","p","c"],"labelExpr":"datum.label == 'g' ? 'GLDAS' : datum.label == 'p' ? 'MR' : 'MR-PC'","title":null,"orient":"none","legendX":346,"legendY":1070,"direction":"horizontal","symbolType":"stroke","symbolSize":4356,"symbolStrokeWidth":5,"labelFont":"Liberation Sans Narrow, Roboto Condensed, sans-serif","labelFontWeight":"bold","labelFontSize":20,"labelColor":"black","columnPadding":58,"labelOffset":8,"padding":0,"encode":{"symbols":{"update":{"strokeCap":{"value":"round"},"strokeDash":{"signal":"datum.value == 'p' ? [1,0] : [8,9]"}}}}}}
 }},
{"data":{"values":[{}]},"mark":{"type":"rule","color":"#1a1a1a","strokeWidth":4.5,"strokeDash":[17,15,4,16]},
 "encoding":{"x":{"datum":351,"type":"quantitative"},"y":{"datum":0,"type":"quantitative"},"y2":{"datum":1.266}}},
{"data":{"values":[{}]},"mark":{"type":"rule","color":"black","strokeWidth":3.5},
 "encoding":{"x":{"datum":-0.9,"type":"quantitative"},"y":{"datum":-0.2,"type":"quantitative"},"y2":{"datum":1.2}}},
{"data":{"values":[{}]},"mark":{"type":"text","text":"Training","align":"left","baseline":"alphabetic","font":"Liberation Serif","fontWeight":"bold","fontSize":28,"color":"black"},
 "encoding":{"x":{"datum":35.5,"type":"quantitative"},"y":{"datum":1.099,"type":"quantitative"}}},
{"data":{"values":[{}]},"mark":{"type":"text","text":"Case","align":"left","baseline":"alphabetic","font":"Liberation Serif","fontWeight":"bold","fontSize":28,"color":"black"},
 "encoding":{"x":{"datum":35.5,"type":"quantitative"},"y":{"datum":0.994,"type":"quantitative"}}},
{"data":{"values":[{}]},"mark":{"type":"text","text":"Mithi","align":"center","baseline":"alphabetic","font":"Liberation Serif","fontWeight":"bold","fontSize":28,"color":"black"},
 "encoding":{"x":{"datum":219.6,"type":"quantitative"},"y":{"datum":1.081,"type":"quantitative"}}},
{"data":{"values":[{}]},"mark":{"type":"text","text":"Test Case","align":"left","baseline":"alphabetic","font":"Liberation Serif","fontWeight":"bold","fontSize":28,"color":"black"},
 "encoding":{"x":{"datum":383.4,"type":"quantitative"},"y":{"datum":1.096,"type":"quantitative"}}}
]
}
]
}
